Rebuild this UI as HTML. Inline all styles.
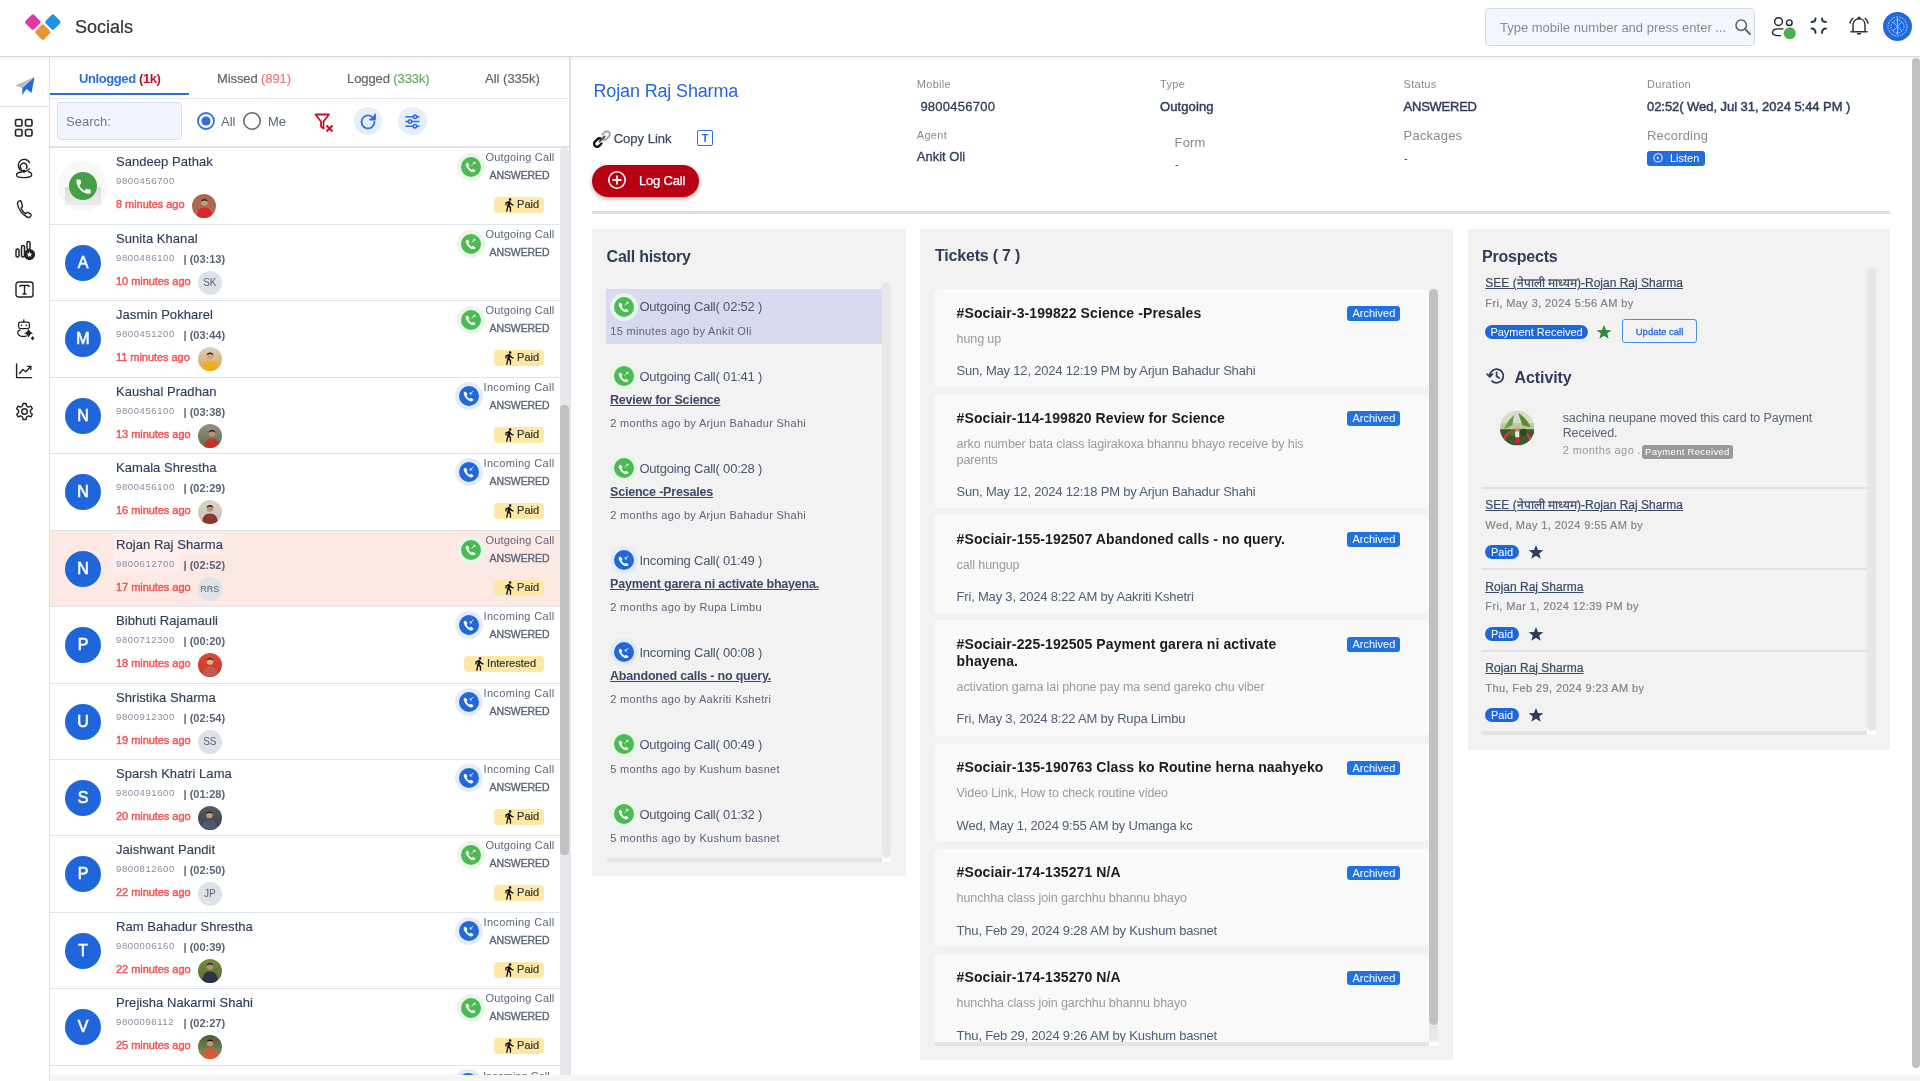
<!DOCTYPE html><html><head><meta charset="utf-8"><title>Socials</title><style>
*{box-sizing:border-box;margin:0;padding:0}
html,body{width:1920px;height:1081px;overflow:hidden;background:#fff}
body{font-family:"Liberation Sans",sans-serif;color:#2f3d5a;position:relative}
.a{position:absolute}
.t{position:absolute;white-space:nowrap;line-height:1}
svg{display:block}
</style></head><body><div style="position:absolute;left:0;top:0;width:1920px;height:1081px;overflow:hidden;will-change:transform;background:#fff">
<div class="a" style="left:0px;top:0px;width:1920px;height:56px;background:#fff"></div>
<div class="a" style="left:0px;top:56px;width:1920px;height:1px;background:#d9d9d9"></div>
<div class="a" style="left:0px;top:57px;width:1920px;height:5px;background:linear-gradient(#f3f3f3,#fff)"></div>
<div class="a" style="left:27.17px;top:16.17px;width:11.67px;height:11.67px;background:#e13a9d;border-radius:2px;transform:rotate(45deg)"></div>
<div class="a" style="left:47.17px;top:16.17px;width:11.67px;height:11.67px;background:#1e93e6;border-radius:2px;transform:rotate(45deg)"></div>
<div class="a" style="left:37.17px;top:26.17px;width:11.67px;height:11.67px;background:#ec9434;border-radius:2px;transform:rotate(45deg)"></div>
<div class="t" style="left:75px;top:17.76px;font-size:18px;color:#333;font-weight:400;-webkit-text-stroke:0.2px #333;">Socials</div>
<div class="a" style="left:1485px;top:8px;width:270px;height:38px;background:#f3f6fd;border:1px solid #d5dae2;border-radius:4px"></div>
<div class="t" style="left:1500px;top:21.00px;font-size:13px;color:#8a8a8a;font-weight:400;">Type mobile number and press enter ...</div>
<svg class="a" style="left:1734px;top:18px" width="18" height="18" viewBox="0 0 18 18"><circle cx="7.2" cy="7.2" r="5.2" fill="none" stroke="#666" stroke-width="1.6"/><line x1="11" y1="11" x2="16" y2="16" stroke="#666" stroke-width="1.8" stroke-linecap="round"/></svg>
<svg class="a" style="left:1770px;top:15px" width="28" height="26" viewBox="0 0 28 26"><circle cx="8.5" cy="6.6" r="3.9" fill="none" stroke="#222" stroke-width="1.4"/><circle cx="19.3" cy="7.7" r="2.8" fill="none" stroke="#222" stroke-width="1.4"/><path d="M13.5 13.9 H8 C4 13.9 2.5 15.7 2.5 17.5 C2.5 19.5 4 20.6 8 20.6 H11" fill="none" stroke="#222" stroke-width="1.4"/><circle cx="19.8" cy="18.3" r="6" fill="#46b14f"/></svg>
<svg class="a" style="left:1810px;top:17px" width="18" height="18" viewBox="0 0 18 18" fill="none" stroke="#2b3a4a" stroke-width="2" stroke-linecap="round"><path d="M5.5 1.5 Q5.5 5 1.5 5"/><path d="M12 1.5 Q12 5 16 5"/><path d="M1.5 11.5 Q5.5 11.5 5.5 16"/><path d="M16 11.5 Q12 11.5 12 16"/></svg>
<svg class="a" style="left:1848px;top:16px" width="22" height="21" viewBox="0 0 22 21" fill="none" stroke="#333" stroke-width="1.5" stroke-linecap="round"><path d="M5 15.5 V9 C5 5.2 7.6 2.8 11 2.8 C14.4 2.8 17 5.2 17 9 V15.5"/><path d="M3 15.8 H19"/><path d="M9.5 17.8 H12.5"/><path d="M2 7 C2.5 5 3.5 3.5 4.8 2.3"/><path d="M20 7 C19.5 5 18.5 3.5 17.2 2.3"/><circle cx="11" cy="2" r="0.8" fill="#333"/></svg>
<svg class="a" style="left:1883px;top:12px" width="29" height="29" viewBox="0 0 29 29"><circle cx="14.5" cy="14.5" r="14.5" fill="#2069de"/><circle cx="14.5" cy="14.5" r="9.5" fill="none" stroke="#cfe0fb" stroke-width="1" stroke-dasharray="1.5 1.2"/><circle cx="14.5" cy="14.5" r="6.5" fill="none" stroke="#e8f0fe" stroke-width="0.9" stroke-dasharray="1.2 1.4"/><path d="M14.5 6 V23 M10 10 L19 19 M19 10 L10 19" stroke="#dfe9fb" stroke-width="0.7"/></svg>
<div class="a" style="left:49px;top:57px;width:1px;height:1024px;background:#dde0e5"></div>
<div class="a" style="left:0px;top:106px;width:49px;height:1px;background:#e2e4e8"></div>
<svg class="a" style="left:14px;top:76px" width="22" height="20" viewBox="0 0 22 20"><path d="M1 9.5 L20.5 1 L8.5 12 Z" fill="#bdbdbd"/><path d="M20.5 1 L17.5 17 L12.5 13 L8 19 L8.5 12 Z" fill="#2169dc"/></svg>
<svg class="a" style="left:14px;top:118px" width="20" height="20" viewBox="0 0 20 20" fill="none" stroke="#222" stroke-width="1.6"><rect x="1.5" y="1.5" width="6.5" height="6.5" rx="1.6"/><rect x="11.5" y="1.5" width="6.5" height="6.5" rx="1.6"/><rect x="1.5" y="11.5" width="6.5" height="6.5" rx="1.6"/><rect x="11.5" y="11.5" width="6.5" height="6.5" rx="1.6"/></svg>
<svg class="a" style="left:14px;top:157px" width="20" height="24" viewBox="14 157 20 24" fill="none" stroke="#222" stroke-width="1.4" stroke-linecap="round"><path d="M29.6 162.6 A6 6 0 1 0 29.2 168.8"/><path d="M21.4 169 A3.3 3.3 0 1 1 26.2 168.6"/><circle cx="23.8" cy="171.3" r="1.7" fill="#222" stroke="none"/><path d="M21.5 172 C17.5 172.5 16.2 174 16.6 175.6 C17.3 178.3 30.6 178.3 31.6 175.2 C32 173.7 30.5 172.2 28.6 171.8"/></svg>
<svg class="a" style="left:16px;top:199px" width="17" height="20" viewBox="16 199 17 20" fill="none" stroke="#222" stroke-width="1.4" stroke-linejoin="round"><path d="M19.5 200.8 C18 201.3 17.2 202.6 17.6 204.5 C18.5 209.5 22.5 214.8 27 217 C28.6 217.8 30.2 217.2 30.9 216 C31.3 215.2 31 214.4 30.3 213.9 L28.2 212.6 C27.5 212.2 26.8 212.4 26.3 213 L25.6 213.8 C23.6 212.5 21.8 210.2 21 208 L21.9 207.3 C22.5 206.8 22.6 206 22.3 205.3 L21.2 201.6 C20.9 200.9 20.2 200.6 19.5 200.8 Z"/></svg>
<svg class="a" style="left:15px;top:240px" width="20" height="20" viewBox="0 0 20 20" fill="none" stroke="#222" stroke-width="1.5"><rect x="1" y="9" width="3" height="8" rx="1.5"/><rect x="6.5" y="5.5" width="3" height="11.5" rx="1.5"/><rect x="12" y="1.5" width="3" height="8" rx="1.5"/><circle cx="14.5" cy="14.5" r="4.8" fill="#222"/><path d="M14.5 11.5 L15.3 13.6 L17.4 13.7 L15.8 15 L16.3 17.1 L14.5 15.9 L12.7 17.1 L13.2 15 L11.6 13.7 L13.7 13.6 Z" fill="#fff" stroke="none"/></svg>
<svg class="a" style="left:15px;top:281px" width="19" height="17" viewBox="0 0 19 17" fill="none" stroke="#222" stroke-width="1.4"><rect x="1" y="1" width="17" height="15" rx="2.5"/><path d="M5 4.5 H14 M5 4.5 V6 M14 4.5 V6 M9.5 4.5 V13 M7.5 13 H11.5"/></svg>
<svg class="a" style="left:15px;top:318px" width="20" height="23" viewBox="15 318 20 23" fill="none" stroke="#222" stroke-width="1.3" stroke-linecap="round"><path d="M23.8 319.8 V322.2"/><rect x="18.6" y="322.2" width="10.8" height="6.4" rx="1.8"/><circle cx="21.6" cy="325.4" r="0.8" fill="#222" stroke="none"/><circle cx="26.3" cy="325.4" r="0.8" fill="#222" stroke="none"/><path d="M20 330.2 C17.6 330.6 17.2 333.2 18.4 334.6 C19.6 336.4 23.6 337 26.6 336"/><path d="M28.6 328.6 Q29.6 332.4 33.2 333.2 Q29.6 334 28.6 337.8 Q27.6 334 24 333.2 Q27.6 332.4 28.6 328.6 Z" fill="#222" stroke="none"/><path d="M32.6 336 L34.4 338.3 L32.6 340.6 L30.8 338.3 Z" fill="#222" stroke="none"/></svg>
<svg class="a" style="left:15px;top:362px" width="19" height="18" viewBox="15 362 19 18" fill="none" stroke="#222" stroke-width="1.4" stroke-linecap="round" stroke-linejoin="round"><path d="M16.6 364 V377.6 H31.6"/><path d="M19.5 373.5 L23 369.5 L25.8 371.8 L30.6 366.6"/><path d="M27.6 366.4 H30.8 V369.6"/></svg>
<svg class="a" style="left:14px;top:401px" width="21" height="21" viewBox="0 0 24 24" fill="none" stroke="#222" stroke-width="1.6" stroke-linejoin="round"><path d="M10.3 2 H13.7 L14.3 4.9 L16.4 6.1 L19.2 5.1 L20.9 8 L18.7 10 V12.4 L20.9 14.4 L19.2 17.3 L16.4 16.3 L14.3 17.5 L13.7 20.4 H10.3 L9.7 17.5 L7.6 16.3 L4.8 17.3 L3.1 14.4 L5.3 12.4 V10 L3.1 8 L4.8 5.1 L7.6 6.1 L9.7 4.9 Z" transform="translate(0,0.8)"/><circle cx="12" cy="12" r="3.2"/></svg>
<div class="a" style="left:569px;top:57px;width:2px;height:1024px;background:#dfe3ea"></div>
<div class="t" style="left:79px;top:72.00px;font-size:13px;color:#2a6fdb;font-weight:700;letter-spacing:-0.4px;">Unlogged <span style="color:#c8102e">(1k)</span></div>
<div class="t" style="left:217px;top:72.00px;font-size:13px;color:#666;font-weight:400;-webkit-text-stroke:0.2px #666;letter-spacing:-0.1px;">Missed <span style="color:#f07878;-webkit-text-stroke-color:#f07878">(891)</span></div>
<div class="t" style="left:347px;top:72.00px;font-size:13px;color:#666;font-weight:400;-webkit-text-stroke:0.2px #666;letter-spacing:-0.1px;">Logged <span style="color:#6aaa64;-webkit-text-stroke-color:#6aaa64">(333k)</span></div>
<div class="t" style="left:485px;top:72.00px;font-size:13px;color:#666;font-weight:400;-webkit-text-stroke:0.2px #666;">All (335k)</div>
<div class="a" style="left:50px;top:93px;width:139px;height:2px;background:#2a6fdb"></div>
<div class="a" style="left:50px;top:98px;width:519px;height:1px;background:#e6e9ef"></div>
<div class="a" style="left:57px;top:102px;width:125px;height:38px;background:#f1f5fd;border:1px solid #d9dee6;border-radius:4px"></div>
<div class="t" style="left:66px;top:115.00px;font-size:13px;color:#777;font-weight:400;">Search:</div>
<svg class="a" style="left:196px;top:111px" width="20" height="20" viewBox="0 0 20 20"><circle cx="10" cy="10" r="8" fill="none" stroke="#2f6fde" stroke-width="1.8"/><circle cx="10" cy="10" r="4.6" fill="#2f6fde"/></svg>
<div class="t" style="left:221px;top:115.00px;font-size:13px;color:#5a6478;font-weight:400;">All</div>
<svg class="a" style="left:242px;top:111px" width="20" height="20" viewBox="0 0 20 20"><circle cx="10" cy="10" r="8.2" fill="none" stroke="#666" stroke-width="1.6"/></svg>
<div class="t" style="left:268px;top:115.00px;font-size:13px;color:#5a6478;font-weight:400;">Me</div>
<svg class="a" style="left:313.5px;top:113px" width="22" height="20" viewBox="0 0 22 20" fill="none" stroke="#c0142a" stroke-width="1.8" stroke-linejoin="round"><path d="M1.5 1.5 H15 L9.5 8.5 V15.5 L7 13.5 V8.5 Z"/><path d="M12.5 12.5 L18.5 18.5 M18.5 12.5 L12.5 18.5" stroke-width="2"/></svg>
<div class="a" style="left:354px;top:107px;width:28px;height:28px;background:#e6eefb;border-radius:50%"></div>
<svg class="a" style="left:358px;top:111.5px" width="20" height="20" viewBox="0 0 20 20" fill="none" stroke="#2f6fde" stroke-width="1.8" stroke-linecap="round"><path d="M16.5 10 A6.5 6.5 0 1 1 14 4.8"/><path d="M17 2.5 V7.5 H12" fill="#2f6fde" stroke-linejoin="round"/></svg>
<div class="a" style="left:398px;top:107px;width:29px;height:28px;background:#e6eefb;border-radius:50%"></div>
<svg class="a" style="left:405px;top:113.5px" width="15" height="15" viewBox="0 0 15 15" stroke="#2f6fde" stroke-width="1.6" stroke-linecap="round" fill="#e6eefb"><path d="M1 2.8 H14 M1 7.5 H14 M1 12.2 H14"/><circle cx="10" cy="2.8" r="1.7"/><circle cx="5" cy="7.5" r="1.7"/><circle cx="10" cy="12.2" r="1.7"/></svg>
<div class="a" style="left:50px;top:146px;width:519px;height:2px;background:#dfe3ea"></div>
<div class="a" style="left:50px;top:148px;width:510px;height:927px;overflow:hidden">
<div class="a" style="left:0;top:0px;width:510px;height:77px;background:#fff;border-bottom:1px solid #dfe3ea">
<div class="a" style="left:8px;top:13px;width:50px;height:50px;border-radius:50%;background:#f7f9f7"></div>
<div class="a" style="left:15px;top:39px;width:36px;height:18px;background:linear-gradient(#dcdcdc,#ececec)"></div>
<div class="a" style="left:19px;top:24px;width:28px;height:28px;border-radius:50%;background:#43a047"></div>
<svg class="a" style="left:23.5px;top:28.5px" width="19" height="19" viewBox="0 0 24 24"><path d="M6.6 10.8c1.4 2.8 3.8 5.1 6.6 6.6l2.2-2.2c.3-.3.7-.4 1-.2 1.1.4 2.3.6 3.6.6.6 0 1 .4 1 1V20c0 .6-.4 1-1 1C10.6 21 3 13.4 3 4c0-.6.4-1 1-1h3.5c.6 0 1 .4 1 1 0 1.3.2 2.5.6 3.6.1.3 0 .7-.2 1L6.6 10.8z" fill="#fff"/></svg>
<div class="t" style="left:66px;top:6.80px;font-size:13px;color:#2f3d5a;font-weight:400;letter-spacing:0.05px;-webkit-text-stroke:0.15px #2f3d5a;">Sandeep Pathak</div>
<div class="t" style="left:66px;top:28.36px;font-size:9.5px;color:#848d9f;font-weight:400;letter-spacing:0.6px;">9800456700</div>
<div class="t" style="left:66px;top:51.09px;font-size:11px;color:#f05656;font-weight:400;letter-spacing:-0.05px;-webkit-text-stroke:0.45px #f05656;">8 minutes ago</div>
<svg class="a" style="left:141.5px;top:45.5px" width="24" height="24" viewBox="0 0 24 24"><defs><clipPath id="cp1"><circle cx="12" cy="12" r="12"/></clipPath><linearGradient id="gcp1" x1="0" y1="0" x2="0" y2="1"><stop offset="0" stop-color="#a8674f"/><stop offset="1" stop-color="#b86a55"/></linearGradient></defs><g clip-path="url(#cp1)"><rect width="24" height="24" fill="url(#gcp1)"/><path d="M4.5 25 C4.5 16.5 7.5 13.5 12.5 13.5 C17.5 13.5 20.5 16.5 20.5 25 Z" fill="#d62a2a"/><circle cx="12.5" cy="8.5" r="3.3" fill="#c99a80"/><path d="M9.1 8.0 C9.1 4.0 15.9 4.0 15.9 8.0 C14.5 6.0 10.5 6.0 9.1 8.0 Z" fill="#1a1a1a"/></g></svg>
<div class="a" style="left:407.00px;top:4.60px;width:28px;height:28px;border-radius:50%;background:#e9f6ea"></div><div class="a" style="left:411.00px;top:8.60px;width:20px;height:20px;border-radius:50%;background:#4cbb55"></div><svg class="a" style="left:415.20px;top:12.80px" width="11.60" height="11.60" viewBox="0 -3 12 12"><path d="M1.2 -0.6 C0.6 0 0.6 1 1 2 C2 4.8 4.6 7.6 7.5 8.7 C8.5 9 9.3 9 9.8 8.5 L10.6 7.6 C10.9 7.2 10.9 6.8 10.5 6.5 L8.8 5.3 C8.4 5.1 8 5.1 7.7 5.4 L7 6.1 C5.6 5.4 4.3 4.1 3.6 2.7 L4.3 2 C4.6 1.7 4.6 1.3 4.4 0.9 L3.2 -0.8 C2.9 -1.2 2.4 -1.2 2.1 -0.9 Z" fill="#fff"/><path d="M7.2 1.4 L10.2 -1.6 M8.9 -1.7 H10.3 V-0.3" stroke="#fff" stroke-opacity="0.85" stroke-width="1.0" fill="none" stroke-linecap="round"/></svg>
<div class="t" style="left:420px;width:100px;text-align:center;top:4.19px;font-size:11px;color:#5d6679;font-weight:400;letter-spacing:0.18px;">Outgoing Call</div>
<div class="t" style="left:420px;width:99px;text-align:center;top:22.11px;font-size:10.5px;color:#5d6679;font-weight:400;letter-spacing:-0.1px;-webkit-text-stroke:0.35px #5d6679;">ANSWERED</div>
<div class="a" style="left:443.6px;top:49px;width:50px;height:16px;background:#fde8a6;border-radius:4px"></div>
<svg class="a" style="left:455.1px;top:49.8px" width="9" height="14" viewBox="5.5 1.2 14 22"><path d="M13.5 5.5c1.1 0 2-.9 2-2s-.9-2-2-2-2 .9-2 2 .9 2 2 2zM9.8 8.9L7 23h2.1l1.8-8 2.1 2v6h2v-7.5l-2.1-2 .6-3C14.8 12 16.8 13 19 13v-2c-1.9 0-3.5-1-4.3-2.4l-1-1.6c-.4-.6-1-1-1.7-1-.3 0-.5.1-.8.1L6 8.3V13h2V9.6l1.8-.7" fill="#111"/></svg>
<div class="t" style="left:467.1px;top:51.29px;font-size:11px;color:#333;font-weight:400;-webkit-text-stroke:0.2px #333;">Paid</div>
</div>
<div class="a" style="left:0;top:77px;width:510px;height:76px;background:#fff;border-bottom:1px solid #dfe3ea">
<div class="a" style="left:15px;top:20px;width:36px;height:36px;border-radius:50%;background:#1f66da"></div>
<div class="t" style="left:15px;top:30.26px;font-size:16px;color:#fff;font-weight:400;width:36px;text-align:center;-webkit-text-stroke:0.6px #fff;">A</div>
<div class="t" style="left:66px;top:6.80px;font-size:13px;color:#2f3d5a;font-weight:400;letter-spacing:0.05px;-webkit-text-stroke:0.15px #2f3d5a;">Sunita Khanal</div>
<div class="t" style="left:66px;top:28.36px;font-size:9.5px;color:#848d9f;font-weight:400;letter-spacing:0.6px;">9800486100</div>
<div class="t" style="left:133.5px;top:28.69px;font-size:11px;color:#5b6477;font-weight:700;">| (03:13)</div>
<div class="t" style="left:66px;top:51.09px;font-size:11px;color:#f05656;font-weight:400;letter-spacing:-0.05px;-webkit-text-stroke:0.45px #f05656;">10 minutes ago</div>
<div class="a" style="left:147.8px;top:45.5px;width:24px;height:24px;border-radius:50%;background:#dde1e8"></div>
<div class="t" style="left:147.8px;top:52.73px;font-size:10px;color:#5a6478;font-weight:400;width:24px;text-align:center;">SK</div>
<div class="a" style="left:407.00px;top:4.60px;width:28px;height:28px;border-radius:50%;background:#e9f6ea"></div><div class="a" style="left:411.00px;top:8.60px;width:20px;height:20px;border-radius:50%;background:#4cbb55"></div><svg class="a" style="left:415.20px;top:12.80px" width="11.60" height="11.60" viewBox="0 -3 12 12"><path d="M1.2 -0.6 C0.6 0 0.6 1 1 2 C2 4.8 4.6 7.6 7.5 8.7 C8.5 9 9.3 9 9.8 8.5 L10.6 7.6 C10.9 7.2 10.9 6.8 10.5 6.5 L8.8 5.3 C8.4 5.1 8 5.1 7.7 5.4 L7 6.1 C5.6 5.4 4.3 4.1 3.6 2.7 L4.3 2 C4.6 1.7 4.6 1.3 4.4 0.9 L3.2 -0.8 C2.9 -1.2 2.4 -1.2 2.1 -0.9 Z" fill="#fff"/><path d="M7.2 1.4 L10.2 -1.6 M8.9 -1.7 H10.3 V-0.3" stroke="#fff" stroke-opacity="0.85" stroke-width="1.0" fill="none" stroke-linecap="round"/></svg>
<div class="t" style="left:420px;width:100px;text-align:center;top:4.19px;font-size:11px;color:#5d6679;font-weight:400;letter-spacing:0.18px;">Outgoing Call</div>
<div class="t" style="left:420px;width:99px;text-align:center;top:22.11px;font-size:10.5px;color:#5d6679;font-weight:400;letter-spacing:-0.1px;-webkit-text-stroke:0.35px #5d6679;">ANSWERED</div>
</div>
<div class="a" style="left:0;top:153px;width:510px;height:77px;background:#fff;border-bottom:1px solid #dfe3ea">
<div class="a" style="left:15px;top:20px;width:36px;height:36px;border-radius:50%;background:#1f66da"></div>
<div class="t" style="left:15px;top:30.26px;font-size:16px;color:#fff;font-weight:400;width:36px;text-align:center;-webkit-text-stroke:0.6px #fff;">M</div>
<div class="t" style="left:66px;top:6.80px;font-size:13px;color:#2f3d5a;font-weight:400;letter-spacing:0.05px;-webkit-text-stroke:0.15px #2f3d5a;">Jasmin Pokharel</div>
<div class="t" style="left:66px;top:28.36px;font-size:9.5px;color:#848d9f;font-weight:400;letter-spacing:0.6px;">9800451200</div>
<div class="t" style="left:133.5px;top:28.69px;font-size:11px;color:#5b6477;font-weight:700;">| (03:44)</div>
<div class="t" style="left:66px;top:51.09px;font-size:11px;color:#f05656;font-weight:400;letter-spacing:-0.05px;-webkit-text-stroke:0.45px #f05656;">11 minutes ago</div>
<svg class="a" style="left:147.8px;top:45.5px" width="24" height="24" viewBox="0 0 24 24"><defs><clipPath id="cp2"><circle cx="12" cy="12" r="12"/></clipPath><linearGradient id="gcp2" x1="0" y1="0" x2="0" y2="1"><stop offset="0" stop-color="#d9d0c8"/><stop offset="1" stop-color="#e2a040"/></linearGradient></defs><g clip-path="url(#cp2)"><rect width="24" height="24" fill="url(#gcp2)"/><path d="M4 25 C4 17 7 14 12 14 C17 14 20 17 20 25 Z" fill="#e8b020"/><circle cx="12" cy="9" r="3.3" fill="#d8a080"/><path d="M8.6 8.5 C8.6 4.5 15.4 4.5 15.4 8.5 C14 6.5 10 6.5 8.6 8.5 Z" fill="#2a1a10"/></g></svg>
<div class="a" style="left:407.00px;top:4.60px;width:28px;height:28px;border-radius:50%;background:#e9f6ea"></div><div class="a" style="left:411.00px;top:8.60px;width:20px;height:20px;border-radius:50%;background:#4cbb55"></div><svg class="a" style="left:415.20px;top:12.80px" width="11.60" height="11.60" viewBox="0 -3 12 12"><path d="M1.2 -0.6 C0.6 0 0.6 1 1 2 C2 4.8 4.6 7.6 7.5 8.7 C8.5 9 9.3 9 9.8 8.5 L10.6 7.6 C10.9 7.2 10.9 6.8 10.5 6.5 L8.8 5.3 C8.4 5.1 8 5.1 7.7 5.4 L7 6.1 C5.6 5.4 4.3 4.1 3.6 2.7 L4.3 2 C4.6 1.7 4.6 1.3 4.4 0.9 L3.2 -0.8 C2.9 -1.2 2.4 -1.2 2.1 -0.9 Z" fill="#fff"/><path d="M7.2 1.4 L10.2 -1.6 M8.9 -1.7 H10.3 V-0.3" stroke="#fff" stroke-opacity="0.85" stroke-width="1.0" fill="none" stroke-linecap="round"/></svg>
<div class="t" style="left:420px;width:100px;text-align:center;top:4.19px;font-size:11px;color:#5d6679;font-weight:400;letter-spacing:0.18px;">Outgoing Call</div>
<div class="t" style="left:420px;width:99px;text-align:center;top:22.11px;font-size:10.5px;color:#5d6679;font-weight:400;letter-spacing:-0.1px;-webkit-text-stroke:0.35px #5d6679;">ANSWERED</div>
<div class="a" style="left:443.6px;top:49px;width:50px;height:16px;background:#fde8a6;border-radius:4px"></div>
<svg class="a" style="left:455.1px;top:49.8px" width="9" height="14" viewBox="5.5 1.2 14 22"><path d="M13.5 5.5c1.1 0 2-.9 2-2s-.9-2-2-2-2 .9-2 2 .9 2 2 2zM9.8 8.9L7 23h2.1l1.8-8 2.1 2v6h2v-7.5l-2.1-2 .6-3C14.8 12 16.8 13 19 13v-2c-1.9 0-3.5-1-4.3-2.4l-1-1.6c-.4-.6-1-1-1.7-1-.3 0-.5.1-.8.1L6 8.3V13h2V9.6l1.8-.7" fill="#111"/></svg>
<div class="t" style="left:467.1px;top:51.29px;font-size:11px;color:#333;font-weight:400;-webkit-text-stroke:0.2px #333;">Paid</div>
</div>
<div class="a" style="left:0;top:230px;width:510px;height:76px;background:#fff;border-bottom:1px solid #dfe3ea">
<div class="a" style="left:15px;top:20px;width:36px;height:36px;border-radius:50%;background:#1f66da"></div>
<div class="t" style="left:15px;top:30.26px;font-size:16px;color:#fff;font-weight:400;width:36px;text-align:center;-webkit-text-stroke:0.6px #fff;">N</div>
<div class="t" style="left:66px;top:6.80px;font-size:13px;color:#2f3d5a;font-weight:400;letter-spacing:0.05px;-webkit-text-stroke:0.15px #2f3d5a;">Kaushal Pradhan</div>
<div class="t" style="left:66px;top:28.36px;font-size:9.5px;color:#848d9f;font-weight:400;letter-spacing:0.6px;">9800456100</div>
<div class="t" style="left:133.5px;top:28.69px;font-size:11px;color:#5b6477;font-weight:700;">| (03:38)</div>
<div class="t" style="left:66px;top:51.09px;font-size:11px;color:#f05656;font-weight:400;letter-spacing:-0.05px;-webkit-text-stroke:0.45px #f05656;">13 minutes ago</div>
<svg class="a" style="left:147.8px;top:45.5px" width="24" height="24" viewBox="0 0 24 24"><defs><clipPath id="cp3"><circle cx="12" cy="12" r="12"/></clipPath><linearGradient id="gcp3" x1="0" y1="0" x2="0" y2="1"><stop offset="0" stop-color="#9a9080"/><stop offset="1" stop-color="#5a7050"/></linearGradient></defs><g clip-path="url(#cp3)"><rect width="24" height="24" fill="url(#gcp3)"/><path d="M6 25 C6 17.5 9 14.5 14 14.5 C19 14.5 22 17.5 22 25 Z" fill="#c83030"/><circle cx="14" cy="9.5" r="3.3" fill="#c09070"/><path d="M10.6 9.0 C10.6 5.0 17.4 5.0 17.4 9.0 C16 7.0 12 7.0 10.6 9.0 Z" fill="#1a1a1a"/></g></svg>
<div class="a" style="left:404.80px;top:3.90px;width:28px;height:28px;border-radius:50%;background:#e4ecfa"></div><div class="a" style="left:408.80px;top:7.90px;width:20px;height:20px;border-radius:50%;background:#2068dc"></div><svg class="a" style="left:413.00px;top:12.10px" width="11.60" height="11.60" viewBox="0 -3 12 12"><path d="M1.2 -0.6 C0.6 0 0.6 1 1 2 C2 4.8 4.6 7.6 7.5 8.7 C8.5 9 9.3 9 9.8 8.5 L10.6 7.6 C10.9 7.2 10.9 6.8 10.5 6.5 L8.8 5.3 C8.4 5.1 8 5.1 7.7 5.4 L7 6.1 C5.6 5.4 4.3 4.1 3.6 2.7 L4.3 2 C4.6 1.7 4.6 1.3 4.4 0.9 L3.2 -0.8 C2.9 -1.2 2.4 -1.2 2.1 -0.9 Z" fill="#fff"/><path d="M10.4 -1.8 L7.6 1.0 M7.5 -0.4 V1.1 H9.0" stroke="#fff" stroke-opacity="0.85" stroke-width="1.0" fill="none" stroke-linecap="round"/></svg>
<div class="t" style="left:420px;width:98px;text-align:center;top:4.19px;font-size:11px;color:#5d6679;font-weight:400;letter-spacing:0.33px;">Incoming Call</div>
<div class="t" style="left:420px;width:99px;text-align:center;top:22.11px;font-size:10.5px;color:#5d6679;font-weight:400;letter-spacing:-0.1px;-webkit-text-stroke:0.35px #5d6679;">ANSWERED</div>
<div class="a" style="left:443.6px;top:49px;width:50px;height:16px;background:#fde8a6;border-radius:4px"></div>
<svg class="a" style="left:455.1px;top:49.8px" width="9" height="14" viewBox="5.5 1.2 14 22"><path d="M13.5 5.5c1.1 0 2-.9 2-2s-.9-2-2-2-2 .9-2 2 .9 2 2 2zM9.8 8.9L7 23h2.1l1.8-8 2.1 2v6h2v-7.5l-2.1-2 .6-3C14.8 12 16.8 13 19 13v-2c-1.9 0-3.5-1-4.3-2.4l-1-1.6c-.4-.6-1-1-1.7-1-.3 0-.5.1-.8.1L6 8.3V13h2V9.6l1.8-.7" fill="#111"/></svg>
<div class="t" style="left:467.1px;top:51.29px;font-size:11px;color:#333;font-weight:400;-webkit-text-stroke:0.2px #333;">Paid</div>
</div>
<div class="a" style="left:0;top:306px;width:510px;height:77px;background:#fff;border-bottom:1px solid #dfe3ea">
<div class="a" style="left:15px;top:20px;width:36px;height:36px;border-radius:50%;background:#1f66da"></div>
<div class="t" style="left:15px;top:30.26px;font-size:16px;color:#fff;font-weight:400;width:36px;text-align:center;-webkit-text-stroke:0.6px #fff;">N</div>
<div class="t" style="left:66px;top:6.80px;font-size:13px;color:#2f3d5a;font-weight:400;letter-spacing:0.05px;-webkit-text-stroke:0.15px #2f3d5a;">Kamala Shrestha</div>
<div class="t" style="left:66px;top:28.36px;font-size:9.5px;color:#848d9f;font-weight:400;letter-spacing:0.6px;">9800456100</div>
<div class="t" style="left:133.5px;top:28.69px;font-size:11px;color:#5b6477;font-weight:700;">| (02:29)</div>
<div class="t" style="left:66px;top:51.09px;font-size:11px;color:#f05656;font-weight:400;letter-spacing:-0.05px;-webkit-text-stroke:0.45px #f05656;">16 minutes ago</div>
<svg class="a" style="left:147.8px;top:45.5px" width="24" height="24" viewBox="0 0 24 24"><defs><clipPath id="cp4"><circle cx="12" cy="12" r="12"/></clipPath><linearGradient id="gcp4" x1="0" y1="0" x2="0" y2="1"><stop offset="0" stop-color="#d8d4cc"/><stop offset="1" stop-color="#c8c0b8"/></linearGradient></defs><g clip-path="url(#cp4)"><rect width="24" height="24" fill="url(#gcp4)"/><path d="M4 25 C4 16.5 7 13.5 12 13.5 C17 13.5 20 16.5 20 25 Z" fill="#8a3a30"/><circle cx="12" cy="8.5" r="3.3" fill="#c09078"/><path d="M8.6 8.0 C8.6 4.0 15.4 4.0 15.4 8.0 C14 6.0 10 6.0 8.6 8.0 Z" fill="#2a1a10"/></g></svg>
<div class="a" style="left:404.80px;top:3.90px;width:28px;height:28px;border-radius:50%;background:#e4ecfa"></div><div class="a" style="left:408.80px;top:7.90px;width:20px;height:20px;border-radius:50%;background:#2068dc"></div><svg class="a" style="left:413.00px;top:12.10px" width="11.60" height="11.60" viewBox="0 -3 12 12"><path d="M1.2 -0.6 C0.6 0 0.6 1 1 2 C2 4.8 4.6 7.6 7.5 8.7 C8.5 9 9.3 9 9.8 8.5 L10.6 7.6 C10.9 7.2 10.9 6.8 10.5 6.5 L8.8 5.3 C8.4 5.1 8 5.1 7.7 5.4 L7 6.1 C5.6 5.4 4.3 4.1 3.6 2.7 L4.3 2 C4.6 1.7 4.6 1.3 4.4 0.9 L3.2 -0.8 C2.9 -1.2 2.4 -1.2 2.1 -0.9 Z" fill="#fff"/><path d="M10.4 -1.8 L7.6 1.0 M7.5 -0.4 V1.1 H9.0" stroke="#fff" stroke-opacity="0.85" stroke-width="1.0" fill="none" stroke-linecap="round"/></svg>
<div class="t" style="left:420px;width:98px;text-align:center;top:4.19px;font-size:11px;color:#5d6679;font-weight:400;letter-spacing:0.33px;">Incoming Call</div>
<div class="t" style="left:420px;width:99px;text-align:center;top:22.11px;font-size:10.5px;color:#5d6679;font-weight:400;letter-spacing:-0.1px;-webkit-text-stroke:0.35px #5d6679;">ANSWERED</div>
<div class="a" style="left:443.6px;top:49px;width:50px;height:16px;background:#fde8a6;border-radius:4px"></div>
<svg class="a" style="left:455.1px;top:49.8px" width="9" height="14" viewBox="5.5 1.2 14 22"><path d="M13.5 5.5c1.1 0 2-.9 2-2s-.9-2-2-2-2 .9-2 2 .9 2 2 2zM9.8 8.9L7 23h2.1l1.8-8 2.1 2v6h2v-7.5l-2.1-2 .6-3C14.8 12 16.8 13 19 13v-2c-1.9 0-3.5-1-4.3-2.4l-1-1.6c-.4-.6-1-1-1.7-1-.3 0-.5.1-.8.1L6 8.3V13h2V9.6l1.8-.7" fill="#111"/></svg>
<div class="t" style="left:467.1px;top:51.29px;font-size:11px;color:#333;font-weight:400;-webkit-text-stroke:0.2px #333;">Paid</div>
</div>
<div class="a" style="left:0;top:383px;width:510px;height:76px;background:#fde9e4;border-bottom:1px solid #dfe3ea">
<div class="a" style="left:15px;top:20px;width:36px;height:36px;border-radius:50%;background:#1f66da"></div>
<div class="t" style="left:15px;top:30.26px;font-size:16px;color:#fff;font-weight:400;width:36px;text-align:center;-webkit-text-stroke:0.6px #fff;">N</div>
<div class="a" style="left:64px;top:3px;width:109px;height:20px;background:rgba(255,255,255,0.3)"></div>
<div class="a" style="left:62.5px;top:23px;width:67.5px;height:17px;background:rgba(255,255,255,0.3)"></div>
<div class="t" style="left:66px;top:6.80px;font-size:13px;color:#2f3d5a;font-weight:400;letter-spacing:0.05px;-webkit-text-stroke:0.15px #2f3d5a;">Rojan Raj Sharma</div>
<div class="t" style="left:66px;top:28.36px;font-size:9.5px;color:#848d9f;font-weight:400;letter-spacing:0.6px;">9800612700</div>
<div class="t" style="left:133.5px;top:28.69px;font-size:11px;color:#5b6477;font-weight:700;">| (02:52)</div>
<div class="t" style="left:66px;top:51.09px;font-size:11px;color:#f05656;font-weight:400;letter-spacing:-0.05px;-webkit-text-stroke:0.45px #f05656;">17 minutes ago</div>
<div class="a" style="left:147.8px;top:45.5px;width:24px;height:24px;border-radius:50%;background:#dde1e8"></div>
<div class="t" style="left:147.8px;top:53.58px;font-size:9px;color:#5a6478;font-weight:400;width:24px;text-align:center;">RRS</div>
<div class="a" style="left:407.00px;top:4.60px;width:28px;height:28px;border-radius:50%;background:#e9f6ea"></div><div class="a" style="left:411.00px;top:8.60px;width:20px;height:20px;border-radius:50%;background:#4cbb55"></div><svg class="a" style="left:415.20px;top:12.80px" width="11.60" height="11.60" viewBox="0 -3 12 12"><path d="M1.2 -0.6 C0.6 0 0.6 1 1 2 C2 4.8 4.6 7.6 7.5 8.7 C8.5 9 9.3 9 9.8 8.5 L10.6 7.6 C10.9 7.2 10.9 6.8 10.5 6.5 L8.8 5.3 C8.4 5.1 8 5.1 7.7 5.4 L7 6.1 C5.6 5.4 4.3 4.1 3.6 2.7 L4.3 2 C4.6 1.7 4.6 1.3 4.4 0.9 L3.2 -0.8 C2.9 -1.2 2.4 -1.2 2.1 -0.9 Z" fill="#fff"/><path d="M7.2 1.4 L10.2 -1.6 M8.9 -1.7 H10.3 V-0.3" stroke="#fff" stroke-opacity="0.85" stroke-width="1.0" fill="none" stroke-linecap="round"/></svg>
<div class="t" style="left:420px;width:100px;text-align:center;top:4.19px;font-size:11px;color:#5d6679;font-weight:400;letter-spacing:0.18px;">Outgoing Call</div>
<div class="t" style="left:420px;width:99px;text-align:center;top:22.11px;font-size:10.5px;color:#5d6679;font-weight:400;letter-spacing:-0.1px;-webkit-text-stroke:0.35px #5d6679;">ANSWERED</div>
<div class="a" style="left:443.6px;top:49px;width:50px;height:16px;background:#fde8a6;border-radius:4px"></div>
<svg class="a" style="left:455.1px;top:49.8px" width="9" height="14" viewBox="5.5 1.2 14 22"><path d="M13.5 5.5c1.1 0 2-.9 2-2s-.9-2-2-2-2 .9-2 2 .9 2 2 2zM9.8 8.9L7 23h2.1l1.8-8 2.1 2v6h2v-7.5l-2.1-2 .6-3C14.8 12 16.8 13 19 13v-2c-1.9 0-3.5-1-4.3-2.4l-1-1.6c-.4-.6-1-1-1.7-1-.3 0-.5.1-.8.1L6 8.3V13h2V9.6l1.8-.7" fill="#111"/></svg>
<div class="t" style="left:467.1px;top:51.29px;font-size:11px;color:#333;font-weight:400;-webkit-text-stroke:0.2px #333;">Paid</div>
</div>
<div class="a" style="left:0;top:459px;width:510px;height:77px;background:#fff;border-bottom:1px solid #dfe3ea">
<div class="a" style="left:15px;top:20px;width:36px;height:36px;border-radius:50%;background:#1f66da"></div>
<div class="t" style="left:15px;top:30.26px;font-size:16px;color:#fff;font-weight:400;width:36px;text-align:center;-webkit-text-stroke:0.6px #fff;">P</div>
<div class="t" style="left:66px;top:6.80px;font-size:13px;color:#2f3d5a;font-weight:400;letter-spacing:0.05px;-webkit-text-stroke:0.15px #2f3d5a;">Bibhuti Rajamauli</div>
<div class="t" style="left:66px;top:28.36px;font-size:9.5px;color:#848d9f;font-weight:400;letter-spacing:0.6px;">9800712300</div>
<div class="t" style="left:133.5px;top:28.69px;font-size:11px;color:#5b6477;font-weight:700;">| (00:20)</div>
<div class="t" style="left:66px;top:51.09px;font-size:11px;color:#f05656;font-weight:400;letter-spacing:-0.05px;-webkit-text-stroke:0.45px #f05656;">18 minutes ago</div>
<svg class="a" style="left:147.8px;top:45.5px" width="24" height="24" viewBox="0 0 24 24"><defs><clipPath id="cp5"><circle cx="12" cy="12" r="12"/></clipPath><linearGradient id="gcp5" x1="0" y1="0" x2="0" y2="1"><stop offset="0" stop-color="#d84a30"/><stop offset="1" stop-color="#c83a28"/></linearGradient></defs><g clip-path="url(#cp5)"><rect width="24" height="24" fill="url(#gcp5)"/><path d="M4 25 C4 16.5 7 13.5 12 13.5 C17 13.5 20 16.5 20 25 Z" fill="#c05a50"/><circle cx="12" cy="8.5" r="3.3" fill="#e0b090"/><path d="M8.6 8.0 C8.6 4.0 15.4 4.0 15.4 8.0 C14 6.0 10 6.0 8.6 8.0 Z" fill="#2a1a10"/></g></svg>
<div class="a" style="left:404.80px;top:3.90px;width:28px;height:28px;border-radius:50%;background:#e4ecfa"></div><div class="a" style="left:408.80px;top:7.90px;width:20px;height:20px;border-radius:50%;background:#2068dc"></div><svg class="a" style="left:413.00px;top:12.10px" width="11.60" height="11.60" viewBox="0 -3 12 12"><path d="M1.2 -0.6 C0.6 0 0.6 1 1 2 C2 4.8 4.6 7.6 7.5 8.7 C8.5 9 9.3 9 9.8 8.5 L10.6 7.6 C10.9 7.2 10.9 6.8 10.5 6.5 L8.8 5.3 C8.4 5.1 8 5.1 7.7 5.4 L7 6.1 C5.6 5.4 4.3 4.1 3.6 2.7 L4.3 2 C4.6 1.7 4.6 1.3 4.4 0.9 L3.2 -0.8 C2.9 -1.2 2.4 -1.2 2.1 -0.9 Z" fill="#fff"/><path d="M10.4 -1.8 L7.6 1.0 M7.5 -0.4 V1.1 H9.0" stroke="#fff" stroke-opacity="0.85" stroke-width="1.0" fill="none" stroke-linecap="round"/></svg>
<div class="t" style="left:420px;width:98px;text-align:center;top:4.19px;font-size:11px;color:#5d6679;font-weight:400;letter-spacing:0.33px;">Incoming Call</div>
<div class="t" style="left:420px;width:99px;text-align:center;top:22.11px;font-size:10.5px;color:#5d6679;font-weight:400;letter-spacing:-0.1px;-webkit-text-stroke:0.35px #5d6679;">ANSWERED</div>
<div class="a" style="left:413.6px;top:49px;width:80px;height:16px;background:#fde8a6;border-radius:4px"></div>
<svg class="a" style="left:425.1px;top:49.8px" width="9" height="14" viewBox="5.5 1.2 14 22"><path d="M13.5 5.5c1.1 0 2-.9 2-2s-.9-2-2-2-2 .9-2 2 .9 2 2 2zM9.8 8.9L7 23h2.1l1.8-8 2.1 2v6h2v-7.5l-2.1-2 .6-3C14.8 12 16.8 13 19 13v-2c-1.9 0-3.5-1-4.3-2.4l-1-1.6c-.4-.6-1-1-1.7-1-.3 0-.5.1-.8.1L6 8.3V13h2V9.6l1.8-.7" fill="#111"/></svg>
<div class="t" style="left:437.1px;top:51.29px;font-size:11px;color:#333;font-weight:400;-webkit-text-stroke:0.2px #333;">Interested</div>
</div>
<div class="a" style="left:0;top:536px;width:510px;height:76px;background:#fff;border-bottom:1px solid #dfe3ea">
<div class="a" style="left:15px;top:20px;width:36px;height:36px;border-radius:50%;background:#1f66da"></div>
<div class="t" style="left:15px;top:30.26px;font-size:16px;color:#fff;font-weight:400;width:36px;text-align:center;-webkit-text-stroke:0.6px #fff;">U</div>
<div class="t" style="left:66px;top:6.80px;font-size:13px;color:#2f3d5a;font-weight:400;letter-spacing:0.05px;-webkit-text-stroke:0.15px #2f3d5a;">Shristika Sharma</div>
<div class="t" style="left:66px;top:28.36px;font-size:9.5px;color:#848d9f;font-weight:400;letter-spacing:0.6px;">9800912300</div>
<div class="t" style="left:133.5px;top:28.69px;font-size:11px;color:#5b6477;font-weight:700;">| (02:54)</div>
<div class="t" style="left:66px;top:51.09px;font-size:11px;color:#f05656;font-weight:400;letter-spacing:-0.05px;-webkit-text-stroke:0.45px #f05656;">19 minutes ago</div>
<div class="a" style="left:147.8px;top:45.5px;width:24px;height:24px;border-radius:50%;background:#dde1e8"></div>
<div class="t" style="left:147.8px;top:52.73px;font-size:10px;color:#5a6478;font-weight:400;width:24px;text-align:center;">SS</div>
<div class="a" style="left:404.80px;top:3.90px;width:28px;height:28px;border-radius:50%;background:#e4ecfa"></div><div class="a" style="left:408.80px;top:7.90px;width:20px;height:20px;border-radius:50%;background:#2068dc"></div><svg class="a" style="left:413.00px;top:12.10px" width="11.60" height="11.60" viewBox="0 -3 12 12"><path d="M1.2 -0.6 C0.6 0 0.6 1 1 2 C2 4.8 4.6 7.6 7.5 8.7 C8.5 9 9.3 9 9.8 8.5 L10.6 7.6 C10.9 7.2 10.9 6.8 10.5 6.5 L8.8 5.3 C8.4 5.1 8 5.1 7.7 5.4 L7 6.1 C5.6 5.4 4.3 4.1 3.6 2.7 L4.3 2 C4.6 1.7 4.6 1.3 4.4 0.9 L3.2 -0.8 C2.9 -1.2 2.4 -1.2 2.1 -0.9 Z" fill="#fff"/><path d="M10.4 -1.8 L7.6 1.0 M7.5 -0.4 V1.1 H9.0" stroke="#fff" stroke-opacity="0.85" stroke-width="1.0" fill="none" stroke-linecap="round"/></svg>
<div class="t" style="left:420px;width:98px;text-align:center;top:4.19px;font-size:11px;color:#5d6679;font-weight:400;letter-spacing:0.33px;">Incoming Call</div>
<div class="t" style="left:420px;width:99px;text-align:center;top:22.11px;font-size:10.5px;color:#5d6679;font-weight:400;letter-spacing:-0.1px;-webkit-text-stroke:0.35px #5d6679;">ANSWERED</div>
</div>
<div class="a" style="left:0;top:612px;width:510px;height:76px;background:#fff;border-bottom:1px solid #dfe3ea">
<div class="a" style="left:15px;top:20px;width:36px;height:36px;border-radius:50%;background:#1f66da"></div>
<div class="t" style="left:15px;top:30.26px;font-size:16px;color:#fff;font-weight:400;width:36px;text-align:center;-webkit-text-stroke:0.6px #fff;">S</div>
<div class="t" style="left:66px;top:6.80px;font-size:13px;color:#2f3d5a;font-weight:400;letter-spacing:0.05px;-webkit-text-stroke:0.15px #2f3d5a;">Sparsh Khatri Lama</div>
<div class="t" style="left:66px;top:28.36px;font-size:9.5px;color:#848d9f;font-weight:400;letter-spacing:0.6px;">9800491600</div>
<div class="t" style="left:133.5px;top:28.69px;font-size:11px;color:#5b6477;font-weight:700;">| (01:28)</div>
<div class="t" style="left:66px;top:51.09px;font-size:11px;color:#f05656;font-weight:400;letter-spacing:-0.05px;-webkit-text-stroke:0.45px #f05656;">20 minutes ago</div>
<svg class="a" style="left:147.8px;top:45.5px" width="24" height="24" viewBox="0 0 24 24"><defs><clipPath id="cp6"><circle cx="12" cy="12" r="12"/></clipPath><linearGradient id="gcp6" x1="0" y1="0" x2="0" y2="1"><stop offset="0" stop-color="#5a5a60"/><stop offset="1" stop-color="#384050"/></linearGradient></defs><g clip-path="url(#cp6)"><rect width="24" height="24" fill="url(#gcp6)"/><path d="M3.5 25 C3.5 17 6.5 14 11.5 14 C16.5 14 19.5 17 19.5 25 Z" fill="#4a5a70"/><circle cx="11.5" cy="9" r="3.3" fill="#c89a70"/><path d="M8.1 8.5 C8.1 4.5 14.9 4.5 14.9 8.5 C13.5 6.5 9.5 6.5 8.1 8.5 Z" fill="#1a1a1a"/></g></svg>
<div class="a" style="left:404.80px;top:3.90px;width:28px;height:28px;border-radius:50%;background:#e4ecfa"></div><div class="a" style="left:408.80px;top:7.90px;width:20px;height:20px;border-radius:50%;background:#2068dc"></div><svg class="a" style="left:413.00px;top:12.10px" width="11.60" height="11.60" viewBox="0 -3 12 12"><path d="M1.2 -0.6 C0.6 0 0.6 1 1 2 C2 4.8 4.6 7.6 7.5 8.7 C8.5 9 9.3 9 9.8 8.5 L10.6 7.6 C10.9 7.2 10.9 6.8 10.5 6.5 L8.8 5.3 C8.4 5.1 8 5.1 7.7 5.4 L7 6.1 C5.6 5.4 4.3 4.1 3.6 2.7 L4.3 2 C4.6 1.7 4.6 1.3 4.4 0.9 L3.2 -0.8 C2.9 -1.2 2.4 -1.2 2.1 -0.9 Z" fill="#fff"/><path d="M10.4 -1.8 L7.6 1.0 M7.5 -0.4 V1.1 H9.0" stroke="#fff" stroke-opacity="0.85" stroke-width="1.0" fill="none" stroke-linecap="round"/></svg>
<div class="t" style="left:420px;width:98px;text-align:center;top:4.19px;font-size:11px;color:#5d6679;font-weight:400;letter-spacing:0.33px;">Incoming Call</div>
<div class="t" style="left:420px;width:99px;text-align:center;top:22.11px;font-size:10.5px;color:#5d6679;font-weight:400;letter-spacing:-0.1px;-webkit-text-stroke:0.35px #5d6679;">ANSWERED</div>
<div class="a" style="left:443.6px;top:49px;width:50px;height:16px;background:#fde8a6;border-radius:4px"></div>
<svg class="a" style="left:455.1px;top:49.8px" width="9" height="14" viewBox="5.5 1.2 14 22"><path d="M13.5 5.5c1.1 0 2-.9 2-2s-.9-2-2-2-2 .9-2 2 .9 2 2 2zM9.8 8.9L7 23h2.1l1.8-8 2.1 2v6h2v-7.5l-2.1-2 .6-3C14.8 12 16.8 13 19 13v-2c-1.9 0-3.5-1-4.3-2.4l-1-1.6c-.4-.6-1-1-1.7-1-.3 0-.5.1-.8.1L6 8.3V13h2V9.6l1.8-.7" fill="#111"/></svg>
<div class="t" style="left:467.1px;top:51.29px;font-size:11px;color:#333;font-weight:400;-webkit-text-stroke:0.2px #333;">Paid</div>
</div>
<div class="a" style="left:0;top:688px;width:510px;height:77px;background:#fff;border-bottom:1px solid #dfe3ea">
<div class="a" style="left:15px;top:20px;width:36px;height:36px;border-radius:50%;background:#1f66da"></div>
<div class="t" style="left:15px;top:30.26px;font-size:16px;color:#fff;font-weight:400;width:36px;text-align:center;-webkit-text-stroke:0.6px #fff;">P</div>
<div class="t" style="left:66px;top:6.80px;font-size:13px;color:#2f3d5a;font-weight:400;letter-spacing:0.05px;-webkit-text-stroke:0.15px #2f3d5a;">Jaishwant Pandit</div>
<div class="t" style="left:66px;top:28.36px;font-size:9.5px;color:#848d9f;font-weight:400;letter-spacing:0.6px;">9800812600</div>
<div class="t" style="left:133.5px;top:28.69px;font-size:11px;color:#5b6477;font-weight:700;">| (02:50)</div>
<div class="t" style="left:66px;top:51.09px;font-size:11px;color:#f05656;font-weight:400;letter-spacing:-0.05px;-webkit-text-stroke:0.45px #f05656;">22 minutes ago</div>
<div class="a" style="left:147.8px;top:45.5px;width:24px;height:24px;border-radius:50%;background:#dde1e8"></div>
<div class="t" style="left:147.8px;top:52.73px;font-size:10px;color:#5a6478;font-weight:400;width:24px;text-align:center;">JP</div>
<div class="a" style="left:407.00px;top:4.60px;width:28px;height:28px;border-radius:50%;background:#e9f6ea"></div><div class="a" style="left:411.00px;top:8.60px;width:20px;height:20px;border-radius:50%;background:#4cbb55"></div><svg class="a" style="left:415.20px;top:12.80px" width="11.60" height="11.60" viewBox="0 -3 12 12"><path d="M1.2 -0.6 C0.6 0 0.6 1 1 2 C2 4.8 4.6 7.6 7.5 8.7 C8.5 9 9.3 9 9.8 8.5 L10.6 7.6 C10.9 7.2 10.9 6.8 10.5 6.5 L8.8 5.3 C8.4 5.1 8 5.1 7.7 5.4 L7 6.1 C5.6 5.4 4.3 4.1 3.6 2.7 L4.3 2 C4.6 1.7 4.6 1.3 4.4 0.9 L3.2 -0.8 C2.9 -1.2 2.4 -1.2 2.1 -0.9 Z" fill="#fff"/><path d="M7.2 1.4 L10.2 -1.6 M8.9 -1.7 H10.3 V-0.3" stroke="#fff" stroke-opacity="0.85" stroke-width="1.0" fill="none" stroke-linecap="round"/></svg>
<div class="t" style="left:420px;width:100px;text-align:center;top:4.19px;font-size:11px;color:#5d6679;font-weight:400;letter-spacing:0.18px;">Outgoing Call</div>
<div class="t" style="left:420px;width:99px;text-align:center;top:22.11px;font-size:10.5px;color:#5d6679;font-weight:400;letter-spacing:-0.1px;-webkit-text-stroke:0.35px #5d6679;">ANSWERED</div>
<div class="a" style="left:443.6px;top:49px;width:50px;height:16px;background:#fde8a6;border-radius:4px"></div>
<svg class="a" style="left:455.1px;top:49.8px" width="9" height="14" viewBox="5.5 1.2 14 22"><path d="M13.5 5.5c1.1 0 2-.9 2-2s-.9-2-2-2-2 .9-2 2 .9 2 2 2zM9.8 8.9L7 23h2.1l1.8-8 2.1 2v6h2v-7.5l-2.1-2 .6-3C14.8 12 16.8 13 19 13v-2c-1.9 0-3.5-1-4.3-2.4l-1-1.6c-.4-.6-1-1-1.7-1-.3 0-.5.1-.8.1L6 8.3V13h2V9.6l1.8-.7" fill="#111"/></svg>
<div class="t" style="left:467.1px;top:51.29px;font-size:11px;color:#333;font-weight:400;-webkit-text-stroke:0.2px #333;">Paid</div>
</div>
<div class="a" style="left:0;top:765px;width:510px;height:76px;background:#fff;border-bottom:1px solid #dfe3ea">
<div class="a" style="left:15px;top:20px;width:36px;height:36px;border-radius:50%;background:#1f66da"></div>
<div class="t" style="left:15px;top:30.26px;font-size:16px;color:#fff;font-weight:400;width:36px;text-align:center;-webkit-text-stroke:0.6px #fff;">T</div>
<div class="t" style="left:66px;top:6.80px;font-size:13px;color:#2f3d5a;font-weight:400;letter-spacing:0.05px;-webkit-text-stroke:0.15px #2f3d5a;">Ram Bahadur Shrestha</div>
<div class="t" style="left:66px;top:28.36px;font-size:9.5px;color:#848d9f;font-weight:400;letter-spacing:0.6px;">9800006160</div>
<div class="t" style="left:133.5px;top:28.69px;font-size:11px;color:#5b6477;font-weight:700;">| (00:39)</div>
<div class="t" style="left:66px;top:51.09px;font-size:11px;color:#f05656;font-weight:400;letter-spacing:-0.05px;-webkit-text-stroke:0.45px #f05656;">22 minutes ago</div>
<svg class="a" style="left:147.8px;top:45.5px" width="24" height="24" viewBox="0 0 24 24"><defs><clipPath id="cp7"><circle cx="12" cy="12" r="12"/></clipPath><linearGradient id="gcp7" x1="0" y1="0" x2="0" y2="1"><stop offset="0" stop-color="#7a8a40"/><stop offset="1" stop-color="#5a6a30"/></linearGradient></defs><g clip-path="url(#cp7)"><rect width="24" height="24" fill="url(#gcp7)"/><path d="M4 25 C4 15.5 7 12.5 12 12.5 C17 12.5 20 15.5 20 25 Z" fill="#2a3448"/><circle cx="12" cy="7.5" r="3.3" fill="#c09070"/><path d="M8.6 7.0 C8.6 3.0 15.4 3.0 15.4 7.0 C14 5.0 10 5.0 8.6 7.0 Z" fill="#1a1a1a"/></g></svg>
<div class="a" style="left:404.80px;top:3.90px;width:28px;height:28px;border-radius:50%;background:#e4ecfa"></div><div class="a" style="left:408.80px;top:7.90px;width:20px;height:20px;border-radius:50%;background:#2068dc"></div><svg class="a" style="left:413.00px;top:12.10px" width="11.60" height="11.60" viewBox="0 -3 12 12"><path d="M1.2 -0.6 C0.6 0 0.6 1 1 2 C2 4.8 4.6 7.6 7.5 8.7 C8.5 9 9.3 9 9.8 8.5 L10.6 7.6 C10.9 7.2 10.9 6.8 10.5 6.5 L8.8 5.3 C8.4 5.1 8 5.1 7.7 5.4 L7 6.1 C5.6 5.4 4.3 4.1 3.6 2.7 L4.3 2 C4.6 1.7 4.6 1.3 4.4 0.9 L3.2 -0.8 C2.9 -1.2 2.4 -1.2 2.1 -0.9 Z" fill="#fff"/><path d="M10.4 -1.8 L7.6 1.0 M7.5 -0.4 V1.1 H9.0" stroke="#fff" stroke-opacity="0.85" stroke-width="1.0" fill="none" stroke-linecap="round"/></svg>
<div class="t" style="left:420px;width:98px;text-align:center;top:4.19px;font-size:11px;color:#5d6679;font-weight:400;letter-spacing:0.33px;">Incoming Call</div>
<div class="t" style="left:420px;width:99px;text-align:center;top:22.11px;font-size:10.5px;color:#5d6679;font-weight:400;letter-spacing:-0.1px;-webkit-text-stroke:0.35px #5d6679;">ANSWERED</div>
<div class="a" style="left:443.6px;top:49px;width:50px;height:16px;background:#fde8a6;border-radius:4px"></div>
<svg class="a" style="left:455.1px;top:49.8px" width="9" height="14" viewBox="5.5 1.2 14 22"><path d="M13.5 5.5c1.1 0 2-.9 2-2s-.9-2-2-2-2 .9-2 2 .9 2 2 2zM9.8 8.9L7 23h2.1l1.8-8 2.1 2v6h2v-7.5l-2.1-2 .6-3C14.8 12 16.8 13 19 13v-2c-1.9 0-3.5-1-4.3-2.4l-1-1.6c-.4-.6-1-1-1.7-1-.3 0-.5.1-.8.1L6 8.3V13h2V9.6l1.8-.7" fill="#111"/></svg>
<div class="t" style="left:467.1px;top:51.29px;font-size:11px;color:#333;font-weight:400;-webkit-text-stroke:0.2px #333;">Paid</div>
</div>
<div class="a" style="left:0;top:841px;width:510px;height:77px;background:#fff;border-bottom:1px solid #dfe3ea">
<div class="a" style="left:15px;top:20px;width:36px;height:36px;border-radius:50%;background:#1f66da"></div>
<div class="t" style="left:15px;top:30.26px;font-size:16px;color:#fff;font-weight:400;width:36px;text-align:center;-webkit-text-stroke:0.6px #fff;">V</div>
<div class="t" style="left:66px;top:6.80px;font-size:13px;color:#2f3d5a;font-weight:400;letter-spacing:0.05px;-webkit-text-stroke:0.15px #2f3d5a;">Prejisha Nakarmi Shahi</div>
<div class="t" style="left:66px;top:28.36px;font-size:9.5px;color:#848d9f;font-weight:400;letter-spacing:0.6px;">9800098112</div>
<div class="t" style="left:133.5px;top:28.69px;font-size:11px;color:#5b6477;font-weight:700;">| (02:27)</div>
<div class="t" style="left:66px;top:51.09px;font-size:11px;color:#f05656;font-weight:400;letter-spacing:-0.05px;-webkit-text-stroke:0.45px #f05656;">25 minutes ago</div>
<svg class="a" style="left:147.8px;top:45.5px" width="24" height="24" viewBox="0 0 24 24"><defs><clipPath id="cp8"><circle cx="12" cy="12" r="12"/></clipPath><linearGradient id="gcp8" x1="0" y1="0" x2="0" y2="1"><stop offset="0" stop-color="#4a5a38"/><stop offset="1" stop-color="#8a9a60"/></linearGradient></defs><g clip-path="url(#cp8)"><rect width="24" height="24" fill="url(#gcp8)"/><path d="M4 25 C4 16 7 13 12 13 C17 13 20 16 20 25 Z" fill="#d8583a"/><circle cx="12" cy="8" r="3.3" fill="#c09070"/><path d="M8.6 7.5 C8.6 3.5 15.4 3.5 15.4 7.5 C14 5.5 10 5.5 8.6 7.5 Z" fill="#1a1010"/></g></svg>
<div class="a" style="left:407.00px;top:4.60px;width:28px;height:28px;border-radius:50%;background:#e9f6ea"></div><div class="a" style="left:411.00px;top:8.60px;width:20px;height:20px;border-radius:50%;background:#4cbb55"></div><svg class="a" style="left:415.20px;top:12.80px" width="11.60" height="11.60" viewBox="0 -3 12 12"><path d="M1.2 -0.6 C0.6 0 0.6 1 1 2 C2 4.8 4.6 7.6 7.5 8.7 C8.5 9 9.3 9 9.8 8.5 L10.6 7.6 C10.9 7.2 10.9 6.8 10.5 6.5 L8.8 5.3 C8.4 5.1 8 5.1 7.7 5.4 L7 6.1 C5.6 5.4 4.3 4.1 3.6 2.7 L4.3 2 C4.6 1.7 4.6 1.3 4.4 0.9 L3.2 -0.8 C2.9 -1.2 2.4 -1.2 2.1 -0.9 Z" fill="#fff"/><path d="M7.2 1.4 L10.2 -1.6 M8.9 -1.7 H10.3 V-0.3" stroke="#fff" stroke-opacity="0.85" stroke-width="1.0" fill="none" stroke-linecap="round"/></svg>
<div class="t" style="left:420px;width:100px;text-align:center;top:4.19px;font-size:11px;color:#5d6679;font-weight:400;letter-spacing:0.18px;">Outgoing Call</div>
<div class="t" style="left:420px;width:99px;text-align:center;top:22.11px;font-size:10.5px;color:#5d6679;font-weight:400;letter-spacing:-0.1px;-webkit-text-stroke:0.35px #5d6679;">ANSWERED</div>
<div class="a" style="left:443.6px;top:49px;width:50px;height:16px;background:#fde8a6;border-radius:4px"></div>
<svg class="a" style="left:455.1px;top:49.8px" width="9" height="14" viewBox="5.5 1.2 14 22"><path d="M13.5 5.5c1.1 0 2-.9 2-2s-.9-2-2-2-2 .9-2 2 .9 2 2 2zM9.8 8.9L7 23h2.1l1.8-8 2.1 2v6h2v-7.5l-2.1-2 .6-3C14.8 12 16.8 13 19 13v-2c-1.9 0-3.5-1-4.3-2.4l-1-1.6c-.4-.6-1-1-1.7-1-.3 0-.5.1-.8.1L6 8.3V13h2V9.6l1.8-.7" fill="#111"/></svg>
<div class="t" style="left:467.1px;top:51.29px;font-size:11px;color:#333;font-weight:400;-webkit-text-stroke:0.2px #333;">Paid</div>
</div>
<div class="a" style="left:0;top:918px;width:510px;height:77px;background:#fff;border-bottom:1px solid #dfe3ea">
<div class="a" style="left:404.00px;top:3.00px;width:28px;height:28px;border-radius:50%;background:#e4ecfa"></div><div class="a" style="left:408.00px;top:7.00px;width:20px;height:20px;border-radius:50%;background:#2068dc"></div><svg class="a" style="left:412.20px;top:11.20px" width="11.60" height="11.60" viewBox="0 -3 12 12"><path d="M1.2 -0.6 C0.6 0 0.6 1 1 2 C2 4.8 4.6 7.6 7.5 8.7 C8.5 9 9.3 9 9.8 8.5 L10.6 7.6 C10.9 7.2 10.9 6.8 10.5 6.5 L8.8 5.3 C8.4 5.1 8 5.1 7.7 5.4 L7 6.1 C5.6 5.4 4.3 4.1 3.6 2.7 L4.3 2 C4.6 1.7 4.6 1.3 4.4 0.9 L3.2 -0.8 C2.9 -1.2 2.4 -1.2 2.1 -0.9 Z" fill="#fff"/><path d="M10.4 -1.8 L7.6 1.0 M7.5 -0.4 V1.1 H9.0" stroke="#fff" stroke-opacity="0.85" stroke-width="1.0" fill="none" stroke-linecap="round"/></svg>
<div class="t" style="left:433px;top:5.19px;font-size:11px;color:#5d6679;font-weight:400;">Incoming Call</div>
</div>
</div>
<div class="a" style="left:560px;top:148px;width:9px;height:927px;background:#e8e9ec;border-radius:4px 4px 0 0"></div>
<div class="a" style="left:560px;top:405px;width:8.5px;height:450px;background:#c1c1c1;border-radius:4px"></div>
<div class="a" style="left:50px;top:1075px;width:1870px;height:6px;background:#f6f6f6"></div>
<div class="t" style="left:593.5px;top:81.76px;font-size:18px;color:#2368d8;font-weight:400;letter-spacing:-0.15px;">Rojan Raj Sharma</div>
<svg class="a" style="left:592px;top:129px" width="20" height="20" viewBox="0 0 20 20" fill="none" stroke-linecap="round"><path d="M10.5 5.5 L12.8 3.2 C14 2 15.8 2 17 3.2 C18.2 4.4 18.2 6.2 17 7.4 L14.7 9.7 C13.5 10.9 11.7 10.9 10.5 9.7" stroke="#aaa" stroke-width="2.2"/><path d="M9.5 10.3 C8.3 9.1 6.5 9.1 5.3 10.3 L3 12.6 C1.8 13.8 1.8 15.6 3 16.8 C4.2 18 6 18 7.2 16.8 L9.5 14.5" stroke="#111" stroke-width="2.4"/><path d="M7.5 12.5 L12.5 7.5" stroke="#555" stroke-width="2"/></svg>
<div class="t" style="left:613.7px;top:132.20px;font-size:13px;color:#3f4b63;font-weight:400;-webkit-text-stroke:0.25px #3f4b63;">Copy Link</div>
<div class="a" style="left:697px;top:130px;width:16px;height:16px;border:1.6px solid #2f6fde;border-radius:2px"></div>
<div class="t" style="left:697px;top:133.19px;font-size:11px;color:#2f6fde;font-weight:700;width:16px;text-align:center;">T</div>
<div class="a" style="left:592px;top:165px;width:107px;height:32px;background:#b80015;border-radius:16px;box-shadow:0 2px 4px rgba(0,0,0,0.3)"></div>
<svg class="a" style="left:607px;top:170px" width="20" height="20" viewBox="0 0 20 20" fill="none" stroke="#fff" stroke-width="1.6"><circle cx="10" cy="10" r="8.2"/><path d="M10 5.5 V14.5 M5.5 10 H14.5" stroke-width="1.8"/></svg>
<div class="t" style="left:639px;top:174.00px;font-size:13px;color:#fff;font-weight:400;letter-spacing:-0.2px;-webkit-text-stroke:0.25px #fff;">Log Call</div>
<div class="t" style="left:916.8px;top:78.69px;font-size:11px;color:#8a8a8a;font-weight:400;letter-spacing:0.3px;">Mobile</div>
<div class="t" style="left:920.4px;top:99.50px;font-size:13px;color:#2f3d5a;font-weight:400;letter-spacing:0.25px;-webkit-text-stroke:0.3px #2f3d5a;">9800456700</div>
<div class="t" style="left:916.8px;top:130.19px;font-size:11px;color:#8a8a8a;font-weight:400;letter-spacing:0.3px;">Agent</div>
<div class="t" style="left:916.8px;top:150.20px;font-size:13px;color:#2f3d5a;font-weight:400;-webkit-text-stroke:0.3px #2f3d5a;">Ankit Oli</div>
<div class="t" style="left:1160px;top:78.69px;font-size:11px;color:#8a8a8a;font-weight:400;letter-spacing:0.3px;">Type</div>
<div class="t" style="left:1160px;top:99.50px;font-size:13px;color:#2f3d5a;font-weight:400;letter-spacing:0.1px;-webkit-text-stroke:0.45px #2f3d5a;">Outgoing</div>
<div class="t" style="left:1174.5px;top:136.00px;font-size:13px;color:#8a8a8a;font-weight:400;letter-spacing:0.2px;">Form</div>
<div class="t" style="left:1175px;top:158.69px;font-size:11px;color:#2f3d5a;font-weight:400;">-</div>
<div class="t" style="left:1403.6px;top:79.29px;font-size:11px;color:#8a8a8a;font-weight:400;letter-spacing:0.3px;">Status</div>
<div class="t" style="left:1403.6px;top:99.60px;font-size:13px;color:#2f3d5a;font-weight:400;letter-spacing:-0.25px;-webkit-text-stroke:0.45px #2f3d5a;">ANSWERED</div>
<div class="t" style="left:1403.6px;top:129.00px;font-size:13px;color:#8a8a8a;font-weight:400;letter-spacing:0.2px;">Packages</div>
<div class="t" style="left:1404px;top:152.69px;font-size:11px;color:#2f3d5a;font-weight:400;">-</div>
<div class="t" style="left:1647px;top:79.29px;font-size:11px;color:#8a8a8a;font-weight:400;letter-spacing:0.3px;">Duration</div>
<div class="t" style="left:1647px;top:99.60px;font-size:13px;color:#2f3d5a;font-weight:400;letter-spacing:-0.05px;-webkit-text-stroke:0.45px #2f3d5a;">02:52( Wed, Jul 31, 2024 5:44 PM )</div>
<div class="t" style="left:1647px;top:129.00px;font-size:13px;color:#8a8a8a;font-weight:400;letter-spacing:0.2px;">Recording</div>
<div class="a" style="left:1646.5px;top:150.6px;width:58px;height:15.2px;background:#226be0;border-radius:3px"></div>
<svg class="a" style="left:1651.5px;top:152px" width="12" height="12" viewBox="0 0 12 12" fill="none" stroke="#fff" stroke-width="1.1" stroke-opacity="0.9"><circle cx="6" cy="5.9" r="4.1"/><path d="M5.1 4.2 L7.3 5.9 L5.1 7.6 Z" fill="#fff" stroke="none"/></svg>
<div class="t" style="left:1670px;top:152.69px;font-size:11px;color:#fff;font-weight:400;">Listen</div>
<div class="a" style="left:592px;top:211px;width:1298px;height:3px;background:#dddddd"></div>
<div class="a" style="left:592px;top:229px;width:314px;height:647px;background:#f2f2f2"></div>
<div class="t" style="left:606.6px;top:248.96px;font-size:16px;color:#2f3d5a;font-weight:700;letter-spacing:-0.25px;">Call history</div>
<div class="a" style="left:606px;top:282px;width:285px;height:580px;overflow:hidden">
<div class="a" style="left:0;top:7.20px;width:276px;height:54.8px;background:#d8dbef"></div>
<div class="a" style="left:4.00px;top:10.60px;width:28px;height:28px;border-radius:50%;background:#e9f6ea"></div><div class="a" style="left:8.00px;top:14.60px;width:20px;height:20px;border-radius:50%;background:#4cbb55"></div><svg class="a" style="left:12.20px;top:18.80px" width="11.60" height="11.60" viewBox="0 -3 12 12"><path d="M1.2 -0.6 C0.6 0 0.6 1 1 2 C2 4.8 4.6 7.6 7.5 8.7 C8.5 9 9.3 9 9.8 8.5 L10.6 7.6 C10.9 7.2 10.9 6.8 10.5 6.5 L8.8 5.3 C8.4 5.1 8 5.1 7.7 5.4 L7 6.1 C5.6 5.4 4.3 4.1 3.6 2.7 L4.3 2 C4.6 1.7 4.6 1.3 4.4 0.9 L3.2 -0.8 C2.9 -1.2 2.4 -1.2 2.1 -0.9 Z" fill="#fff"/><path d="M7.2 1.4 L10.2 -1.6 M8.9 -1.7 H10.3 V-0.3" stroke="#fff" stroke-opacity="0.85" stroke-width="1.0" fill="none" stroke-linecap="round"/></svg>
<div class="t" style="left:33.4px;top:18.40px;font-size:13px;color:#4a5670;font-weight:400;letter-spacing:-0.2px;">Outgoing Call( 02:52 )</div>
<div class="t" style="left:4.3px;top:43.89px;font-size:11px;color:#5a6478;font-weight:400;letter-spacing:0.3px;">15 minutes ago by Ankit Oli</div>
<div class="a" style="left:4.00px;top:80.40px;width:28px;height:28px;border-radius:50%;background:#e9f6ea"></div><div class="a" style="left:8.00px;top:84.40px;width:20px;height:20px;border-radius:50%;background:#4cbb55"></div><svg class="a" style="left:12.20px;top:88.60px" width="11.60" height="11.60" viewBox="0 -3 12 12"><path d="M1.2 -0.6 C0.6 0 0.6 1 1 2 C2 4.8 4.6 7.6 7.5 8.7 C8.5 9 9.3 9 9.8 8.5 L10.6 7.6 C10.9 7.2 10.9 6.8 10.5 6.5 L8.8 5.3 C8.4 5.1 8 5.1 7.7 5.4 L7 6.1 C5.6 5.4 4.3 4.1 3.6 2.7 L4.3 2 C4.6 1.7 4.6 1.3 4.4 0.9 L3.2 -0.8 C2.9 -1.2 2.4 -1.2 2.1 -0.9 Z" fill="#fff"/><path d="M7.2 1.4 L10.2 -1.6 M8.9 -1.7 H10.3 V-0.3" stroke="#fff" stroke-opacity="0.85" stroke-width="1.0" fill="none" stroke-linecap="round"/></svg>
<div class="t" style="left:33.4px;top:88.20px;font-size:13px;color:#4a5670;font-weight:400;letter-spacing:-0.2px;">Outgoing Call( 01:41 )</div>
<div class="t" style="left:4px;top:112.42px;font-size:12.5px;color:#3d4a66;font-weight:700;text-decoration:underline;letter-spacing:-0.2px;">Review for Science</div>
<div class="t" style="left:4.3px;top:135.69px;font-size:11px;color:#5a6478;font-weight:400;letter-spacing:0.3px;">2 months ago by Arjun Bahadur Shahi</div>
<div class="a" style="left:4.00px;top:172.40px;width:28px;height:28px;border-radius:50%;background:#e9f6ea"></div><div class="a" style="left:8.00px;top:176.40px;width:20px;height:20px;border-radius:50%;background:#4cbb55"></div><svg class="a" style="left:12.20px;top:180.60px" width="11.60" height="11.60" viewBox="0 -3 12 12"><path d="M1.2 -0.6 C0.6 0 0.6 1 1 2 C2 4.8 4.6 7.6 7.5 8.7 C8.5 9 9.3 9 9.8 8.5 L10.6 7.6 C10.9 7.2 10.9 6.8 10.5 6.5 L8.8 5.3 C8.4 5.1 8 5.1 7.7 5.4 L7 6.1 C5.6 5.4 4.3 4.1 3.6 2.7 L4.3 2 C4.6 1.7 4.6 1.3 4.4 0.9 L3.2 -0.8 C2.9 -1.2 2.4 -1.2 2.1 -0.9 Z" fill="#fff"/><path d="M7.2 1.4 L10.2 -1.6 M8.9 -1.7 H10.3 V-0.3" stroke="#fff" stroke-opacity="0.85" stroke-width="1.0" fill="none" stroke-linecap="round"/></svg>
<div class="t" style="left:33.4px;top:180.20px;font-size:13px;color:#4a5670;font-weight:400;letter-spacing:-0.2px;">Outgoing Call( 00:28 )</div>
<div class="t" style="left:4px;top:204.42px;font-size:12.5px;color:#3d4a66;font-weight:700;text-decoration:underline;letter-spacing:-0.2px;">Science -Presales</div>
<div class="t" style="left:4.3px;top:227.69px;font-size:11px;color:#5a6478;font-weight:400;letter-spacing:0.3px;">2 months ago by Arjun Bahadur Shahi</div>
<div class="a" style="left:4.00px;top:264.40px;width:28px;height:28px;border-radius:50%;background:#e4ecfa"></div><div class="a" style="left:8.00px;top:268.40px;width:20px;height:20px;border-radius:50%;background:#2068dc"></div><svg class="a" style="left:12.20px;top:272.60px" width="11.60" height="11.60" viewBox="0 -3 12 12"><path d="M1.2 -0.6 C0.6 0 0.6 1 1 2 C2 4.8 4.6 7.6 7.5 8.7 C8.5 9 9.3 9 9.8 8.5 L10.6 7.6 C10.9 7.2 10.9 6.8 10.5 6.5 L8.8 5.3 C8.4 5.1 8 5.1 7.7 5.4 L7 6.1 C5.6 5.4 4.3 4.1 3.6 2.7 L4.3 2 C4.6 1.7 4.6 1.3 4.4 0.9 L3.2 -0.8 C2.9 -1.2 2.4 -1.2 2.1 -0.9 Z" fill="#fff"/><path d="M10.4 -1.8 L7.6 1.0 M7.5 -0.4 V1.1 H9.0" stroke="#fff" stroke-opacity="0.85" stroke-width="1.0" fill="none" stroke-linecap="round"/></svg>
<div class="t" style="left:33.4px;top:272.20px;font-size:13px;color:#4a5670;font-weight:400;letter-spacing:-0.2px;">Incoming Call( 01:49 )</div>
<div class="t" style="left:4px;top:296.42px;font-size:12.5px;color:#3d4a66;font-weight:700;text-decoration:underline;letter-spacing:-0.2px;">Payment garera ni activate bhayena.</div>
<div class="t" style="left:4.3px;top:319.69px;font-size:11px;color:#5a6478;font-weight:400;letter-spacing:0.3px;">2 months ago by Rupa Limbu</div>
<div class="a" style="left:4.00px;top:356.40px;width:28px;height:28px;border-radius:50%;background:#e4ecfa"></div><div class="a" style="left:8.00px;top:360.40px;width:20px;height:20px;border-radius:50%;background:#2068dc"></div><svg class="a" style="left:12.20px;top:364.60px" width="11.60" height="11.60" viewBox="0 -3 12 12"><path d="M1.2 -0.6 C0.6 0 0.6 1 1 2 C2 4.8 4.6 7.6 7.5 8.7 C8.5 9 9.3 9 9.8 8.5 L10.6 7.6 C10.9 7.2 10.9 6.8 10.5 6.5 L8.8 5.3 C8.4 5.1 8 5.1 7.7 5.4 L7 6.1 C5.6 5.4 4.3 4.1 3.6 2.7 L4.3 2 C4.6 1.7 4.6 1.3 4.4 0.9 L3.2 -0.8 C2.9 -1.2 2.4 -1.2 2.1 -0.9 Z" fill="#fff"/><path d="M10.4 -1.8 L7.6 1.0 M7.5 -0.4 V1.1 H9.0" stroke="#fff" stroke-opacity="0.85" stroke-width="1.0" fill="none" stroke-linecap="round"/></svg>
<div class="t" style="left:33.4px;top:364.20px;font-size:13px;color:#4a5670;font-weight:400;letter-spacing:-0.2px;">Incoming Call( 00:08 )</div>
<div class="t" style="left:4px;top:388.42px;font-size:12.5px;color:#3d4a66;font-weight:700;text-decoration:underline;letter-spacing:-0.2px;">Abandoned calls - no query.</div>
<div class="t" style="left:4.3px;top:411.69px;font-size:11px;color:#5a6478;font-weight:400;letter-spacing:0.3px;">2 months ago by Aakriti Kshetri</div>
<div class="a" style="left:4.00px;top:448.40px;width:28px;height:28px;border-radius:50%;background:#e9f6ea"></div><div class="a" style="left:8.00px;top:452.40px;width:20px;height:20px;border-radius:50%;background:#4cbb55"></div><svg class="a" style="left:12.20px;top:456.60px" width="11.60" height="11.60" viewBox="0 -3 12 12"><path d="M1.2 -0.6 C0.6 0 0.6 1 1 2 C2 4.8 4.6 7.6 7.5 8.7 C8.5 9 9.3 9 9.8 8.5 L10.6 7.6 C10.9 7.2 10.9 6.8 10.5 6.5 L8.8 5.3 C8.4 5.1 8 5.1 7.7 5.4 L7 6.1 C5.6 5.4 4.3 4.1 3.6 2.7 L4.3 2 C4.6 1.7 4.6 1.3 4.4 0.9 L3.2 -0.8 C2.9 -1.2 2.4 -1.2 2.1 -0.9 Z" fill="#fff"/><path d="M7.2 1.4 L10.2 -1.6 M8.9 -1.7 H10.3 V-0.3" stroke="#fff" stroke-opacity="0.85" stroke-width="1.0" fill="none" stroke-linecap="round"/></svg>
<div class="t" style="left:33.4px;top:456.20px;font-size:13px;color:#4a5670;font-weight:400;letter-spacing:-0.2px;">Outgoing Call( 00:49 )</div>
<div class="t" style="left:4.3px;top:481.69px;font-size:11px;color:#5a6478;font-weight:400;letter-spacing:0.3px;">5 months ago by Kushum basnet</div>
<div class="a" style="left:4.00px;top:518.20px;width:28px;height:28px;border-radius:50%;background:#e9f6ea"></div><div class="a" style="left:8.00px;top:522.20px;width:20px;height:20px;border-radius:50%;background:#4cbb55"></div><svg class="a" style="left:12.20px;top:526.40px" width="11.60" height="11.60" viewBox="0 -3 12 12"><path d="M1.2 -0.6 C0.6 0 0.6 1 1 2 C2 4.8 4.6 7.6 7.5 8.7 C8.5 9 9.3 9 9.8 8.5 L10.6 7.6 C10.9 7.2 10.9 6.8 10.5 6.5 L8.8 5.3 C8.4 5.1 8 5.1 7.7 5.4 L7 6.1 C5.6 5.4 4.3 4.1 3.6 2.7 L4.3 2 C4.6 1.7 4.6 1.3 4.4 0.9 L3.2 -0.8 C2.9 -1.2 2.4 -1.2 2.1 -0.9 Z" fill="#fff"/><path d="M7.2 1.4 L10.2 -1.6 M8.9 -1.7 H10.3 V-0.3" stroke="#fff" stroke-opacity="0.85" stroke-width="1.0" fill="none" stroke-linecap="round"/></svg>
<div class="t" style="left:33.4px;top:526.00px;font-size:13px;color:#4a5670;font-weight:400;letter-spacing:-0.2px;">Outgoing Call( 01:32 )</div>
<div class="t" style="left:4.3px;top:551.49px;font-size:11px;color:#5a6478;font-weight:400;letter-spacing:0.3px;">5 months ago by Kushum basnet</div>
</div>
<div class="a" style="left:882px;top:282px;width:9px;height:575px;background:#e7e7e7;border-radius:4.5px"></div>
<div class="a" style="left:607px;top:858px;width:275px;height:4px;background:#e4e4e4"></div>
<div class="a" style="left:882px;top:858px;width:9px;height:4px;background:#fff"></div>
<div class="a" style="left:920px;top:229px;width:533px;height:831px;background:#f2f2f2"></div>
<div class="t" style="left:935px;top:247.76px;font-size:16px;color:#2f3d5a;font-weight:700;letter-spacing:-0.2px;">Tickets ( 7 )</div>
<div class="a" style="left:934px;top:289px;width:495px;height:753px;overflow:hidden">
<div class="a" style="left:0;top:0.40px;width:495px;height:97.50px;background:#f9f9f9;border-radius:5px">
<div class="t" style="left:22.6px;top:15.55px;font-size:14px;line-height:17px;color:#1c1c1c;font-weight:700;letter-spacing:0.1px;white-space:normal;width:370px">#Sociair-3-199822 Science -Presales</div>
<div class="a" style="left:413.4px;top:17px;width:53px;height:14.5px;background:#1f72e0;border-radius:3px"></div>
<div class="t" style="left:413.4px;top:18.89px;font-size:11px;color:#fff;font-weight:400;width:53px;text-align:center;">Archived</div>
<div class="t" style="left:22.6px;top:43.42px;font-size:12.5px;color:#9a9a9a;font-weight:400;letter-spacing:-0.1px;">hung up</div>
<div class="t" style="left:22.6px;top:75.00px;font-size:13px;color:#4f5d78;font-weight:400;letter-spacing:-0.2px;">Sun, May 12, 2024 12:19 PM by Arjun Bahadur Shahi</div>
</div>
<div class="a" style="left:0;top:105.40px;width:495px;height:113.50px;background:#f9f9f9;border-radius:5px">
<div class="t" style="left:22.6px;top:15.55px;font-size:14px;line-height:17px;color:#1c1c1c;font-weight:700;letter-spacing:0.1px;white-space:normal;width:370px">#Sociair-114-199820 Review for Science</div>
<div class="a" style="left:413.4px;top:17px;width:53px;height:14.5px;background:#1f72e0;border-radius:3px"></div>
<div class="t" style="left:413.4px;top:18.89px;font-size:11px;color:#fff;font-weight:400;width:53px;text-align:center;">Archived</div>
<div class="t" style="left:22.6px;top:43.42px;font-size:12.5px;color:#9a9a9a;font-weight:400;letter-spacing:-0.1px;">arko number bata class lagirakoxa bhannu bhayo receive by his</div>
<div class="t" style="left:22.6px;top:59.42px;font-size:12.5px;color:#9a9a9a;font-weight:400;letter-spacing:-0.1px;">parents</div>
<div class="t" style="left:22.6px;top:91.00px;font-size:13px;color:#4f5d78;font-weight:400;letter-spacing:-0.2px;">Sun, May 12, 2024 12:18 PM by Arjun Bahadur Shahi</div>
</div>
<div class="a" style="left:0;top:226.40px;width:495px;height:97.50px;background:#f9f9f9;border-radius:5px">
<div class="t" style="left:22.6px;top:15.55px;font-size:14px;line-height:17px;color:#1c1c1c;font-weight:700;letter-spacing:0.1px;white-space:normal;width:370px">#Sociair-155-192507 Abandoned calls - no query.</div>
<div class="a" style="left:413.4px;top:17px;width:53px;height:14.5px;background:#1f72e0;border-radius:3px"></div>
<div class="t" style="left:413.4px;top:18.89px;font-size:11px;color:#fff;font-weight:400;width:53px;text-align:center;">Archived</div>
<div class="t" style="left:22.6px;top:43.42px;font-size:12.5px;color:#9a9a9a;font-weight:400;letter-spacing:-0.1px;">call hungup</div>
<div class="t" style="left:22.6px;top:75.00px;font-size:13px;color:#4f5d78;font-weight:400;letter-spacing:-0.2px;">Fri, May 3, 2024 8:22 AM by Aakriti Kshetri</div>
</div>
<div class="a" style="left:0;top:331.40px;width:495px;height:115.90px;background:#f9f9f9;border-radius:5px">
<div class="t" style="left:22.6px;top:15.55px;font-size:14px;line-height:17px;color:#1c1c1c;font-weight:700;letter-spacing:0.1px;white-space:normal;width:370px">#Sociair-225-192505 Payment garera ni activate<br>bhayena.</div>
<div class="a" style="left:413.4px;top:17px;width:53px;height:14.5px;background:#1f72e0;border-radius:3px"></div>
<div class="t" style="left:413.4px;top:18.89px;font-size:11px;color:#fff;font-weight:400;width:53px;text-align:center;">Archived</div>
<div class="t" style="left:22.6px;top:60.42px;font-size:12.5px;color:#9a9a9a;font-weight:400;letter-spacing:-0.1px;">activation garna lai phone pay ma send gareko chu viber</div>
<div class="t" style="left:22.6px;top:92.00px;font-size:13px;color:#4f5d78;font-weight:400;letter-spacing:-0.2px;">Fri, May 3, 2024 8:22 AM by Rupa Limbu</div>
</div>
<div class="a" style="left:0;top:454.80px;width:495px;height:97.50px;background:#f9f9f9;border-radius:5px">
<div class="t" style="left:22.6px;top:15.55px;font-size:14px;line-height:17px;color:#1c1c1c;font-weight:700;letter-spacing:0.1px;white-space:normal;width:370px">#Sociair-135-190763 Class ko Routine herna naahyeko</div>
<div class="a" style="left:413.4px;top:17px;width:53px;height:14.5px;background:#1f72e0;border-radius:3px"></div>
<div class="t" style="left:413.4px;top:18.89px;font-size:11px;color:#fff;font-weight:400;width:53px;text-align:center;">Archived</div>
<div class="t" style="left:22.6px;top:43.42px;font-size:12.5px;color:#9a9a9a;font-weight:400;letter-spacing:-0.1px;">Video Link, How to check routine video</div>
<div class="t" style="left:22.6px;top:75.00px;font-size:13px;color:#4f5d78;font-weight:400;letter-spacing:-0.2px;">Wed, May 1, 2024 9:55 AM by Umanga kc</div>
</div>
<div class="a" style="left:0;top:559.80px;width:495px;height:97.50px;background:#f9f9f9;border-radius:5px">
<div class="t" style="left:22.6px;top:15.55px;font-size:14px;line-height:17px;color:#1c1c1c;font-weight:700;letter-spacing:0.1px;white-space:normal;width:370px">#Sociair-174-135271 N/A</div>
<div class="a" style="left:413.4px;top:17px;width:53px;height:14.5px;background:#1f72e0;border-radius:3px"></div>
<div class="t" style="left:413.4px;top:18.89px;font-size:11px;color:#fff;font-weight:400;width:53px;text-align:center;">Archived</div>
<div class="t" style="left:22.6px;top:43.42px;font-size:12.5px;color:#9a9a9a;font-weight:400;letter-spacing:-0.1px;">hunchha class join garchhu bhannu bhayo</div>
<div class="t" style="left:22.6px;top:75.00px;font-size:13px;color:#4f5d78;font-weight:400;letter-spacing:-0.2px;">Thu, Feb 29, 2024 9:28 AM by Kushum basnet</div>
</div>
<div class="a" style="left:0;top:664.80px;width:495px;height:97.50px;background:#f9f9f9;border-radius:5px">
<div class="t" style="left:22.6px;top:15.55px;font-size:14px;line-height:17px;color:#1c1c1c;font-weight:700;letter-spacing:0.1px;white-space:normal;width:370px">#Sociair-174-135270 N/A</div>
<div class="a" style="left:413.4px;top:17px;width:53px;height:14.5px;background:#1f72e0;border-radius:3px"></div>
<div class="t" style="left:413.4px;top:18.89px;font-size:11px;color:#fff;font-weight:400;width:53px;text-align:center;">Archived</div>
<div class="t" style="left:22.6px;top:43.42px;font-size:12.5px;color:#9a9a9a;font-weight:400;letter-spacing:-0.1px;">hunchha class join garchhu bhannu bhayo</div>
<div class="t" style="left:22.6px;top:75.00px;font-size:13px;color:#4f5d78;font-weight:400;letter-spacing:-0.2px;">Thu, Feb 29, 2024 9:26 AM by Kushum basnet</div>
</div>
</div>
<div class="a" style="left:1429px;top:289px;width:9px;height:752px;background:#e8e8e8;border-radius:4.5px"></div>
<div class="a" style="left:1429px;top:289px;width:9px;height:736px;background:#c1c1c1;border-radius:4.5px"></div>
<div class="a" style="left:935px;top:1042px;width:494px;height:4px;background:#e4e4e4"></div>
<div class="a" style="left:1429px;top:1042px;width:9px;height:4px;background:#fff"></div>
<div class="a" style="left:1468px;top:229px;width:422px;height:521px;background:#f2f2f2"></div>
<div class="t" style="left:1482px;top:248.76px;font-size:16px;color:#2f3d5a;font-weight:700;letter-spacing:-0.2px;">Prospects</div>
<div class="a" style="left:1867px;top:267px;width:9px;height:463px;background:#e7e7e7;border-radius:4.5px"></div>
<div class="a" style="left:1482px;top:731px;width:385px;height:4px;background:#e4e4e4"></div>
<div class="a" style="left:1867px;top:731px;width:9px;height:4px;background:#fff"></div>
<div class="t" style="left:1485.3px;top:277.34px;font-size:12px;color:#3d4a66;font-weight:400;text-decoration:underline;letter-spacing:0px;-webkit-text-stroke:0.2px #3d4a66;">SEE (नेपाली माध्यम)-Rojan Raj Sharma</div>
<div class="t" style="left:1485.3px;top:297.69px;font-size:11px;color:#80848c;font-weight:400;letter-spacing:0.4px;-webkit-text-stroke:0.2px #80848c;">Fri, May 3, 2024 5:56 AM by</div>
<div class="a" style="left:1485.3px;top:325px;width:102.5px;height:14.3px;background:#1f66da;border-radius:7.5px"></div>
<div class="t" style="left:1485.3px;top:326.99px;font-size:11px;color:#fff;font-weight:400;width:102.5px;text-align:center;">Payment Received</div>
<svg class="a" style="left:1596.4px;top:324.00px" width="16" height="16" viewBox="0 0 24 24"><path d="M12 1.5 L15 9 L23 9.3 L16.8 14.3 L19 22.2 L12 17.6 L5 22.2 L7.2 14.3 L1 9.3 L9 9 Z" fill="#2e8b3a"/></svg>
<div class="a" style="left:1622px;top:319.3px;width:75px;height:24px;border:1.5px solid #4a8fe0;border-radius:3px"></div>
<div class="t" style="left:1622px;top:326.96px;font-size:9.5px;color:#2f6fde;font-weight:400;width:75px;text-align:center;-webkit-text-stroke:0.35px #2f6fde;">Update call</div>
<svg class="a" style="left:1486px;top:367px" width="20" height="18" viewBox="0 0 20 18" fill="none" stroke="#2f3d5a" stroke-width="1.8" stroke-linecap="round"><path d="M3.8 9 A6.8 6.8 0 1 1 6 14"/><path d="M1.2 7.2 L3.8 9.8 L6.4 7.2" stroke-linejoin="round"/><path d="M10.6 5.5 V9.3 L13.2 11"/></svg>
<div class="t" style="left:1514.6px;top:369.66px;font-size:16px;color:#2f3d5a;font-weight:700;letter-spacing:-0.1px;">Activity</div>
<svg class="a" style="left:1499.5px;top:411px" width="34.5" height="34.5" viewBox="0 0 34 34"><defs><clipPath id="actc"><circle cx="17" cy="17" r="17"/></clipPath></defs><g clip-path="url(#actc)"><rect width="34" height="34" fill="#b8c8a0"/><rect y="0" width="34" height="12" fill="#d8dcc8"/><path d="M18 2 C24 6 28 10 30 16 L22 14 Z" fill="#5a8a30"/><path d="M14 4 C10 8 6 12 4 18 L12 14 Z" fill="#6a9a40"/><rect y="18" width="34" height="16" fill="#3a5a28"/><path d="M4 30 C4 16 30 16 30 30" fill="none" stroke="#d03a50" stroke-width="2.5"/><circle cx="12" cy="22" r="3" fill="#4a7a30"/><circle cx="23" cy="21" r="3.5" fill="#2a4a20"/><rect x="15" y="20" width="4" height="6" fill="#f0f0f0"/><rect x="15" y="26" width="4" height="6" fill="#d82030"/><circle cx="17" cy="18.5" r="1.8" fill="#c09070"/></g></svg>
<div class="t" style="left:1562.7px;top:412.22px;font-size:12.5px;color:#5a6478;font-weight:400;letter-spacing:-0.1px;">sachina neupane moved this card to Payment</div>
<div class="t" style="left:1562.7px;top:427.12px;font-size:12.5px;color:#5a6478;font-weight:400;letter-spacing:-0.1px;">Received.</div>
<div class="t" style="left:1562.7px;top:445.39px;font-size:11px;color:#999;font-weight:400;letter-spacing:0.4px;">2 months ago .</div>
<div class="a" style="left:1642px;top:444.7px;width:90.7px;height:14.4px;background:#999;border-radius:3px"></div>
<div class="t" style="left:1642px;top:447.46px;font-size:9.5px;color:#fff;font-weight:400;width:90.7px;text-align:center;letter-spacing:0.3px;">Payment Received</div>
<div class="a" style="left:1482px;top:487px;width:385px;height:2px;background:#e0e0e0"></div>
<div class="t" style="left:1485.3px;top:499.34px;font-size:12px;color:#3d4a66;font-weight:400;text-decoration:underline;letter-spacing:0px;-webkit-text-stroke:0.2px #3d4a66;">SEE (नेपाली माध्यम)-Rojan Raj Sharma</div>
<div class="t" style="left:1485.3px;top:519.69px;font-size:11px;color:#80848c;font-weight:400;letter-spacing:0.4px;-webkit-text-stroke:0.2px #80848c;">Wed, May 1, 2024 9:55 AM by</div>
<div class="a" style="left:1485px;top:545.3px;width:34px;height:14.2px;background:#1f66da;border-radius:7.5px"></div>
<div class="t" style="left:1485px;top:547.19px;font-size:11px;color:#fff;font-weight:400;width:34px;text-align:center;">Paid</div>
<svg class="a" style="left:1527.5px;top:543.80px" width="16" height="16" viewBox="0 0 24 24"><path d="M12 1.5 L15 9 L23 9.3 L16.8 14.3 L19 22.2 L12 17.6 L5 22.2 L7.2 14.3 L1 9.3 L9 9 Z" fill="#2f3d5a"/></svg>
<div class="a" style="left:1482px;top:568px;width:385px;height:2px;background:#e0e0e0"></div>
<div class="t" style="left:1485.3px;top:581.24px;font-size:12px;color:#3d4a66;font-weight:400;text-decoration:underline;letter-spacing:0px;-webkit-text-stroke:0.2px #3d4a66;">Rojan Raj Sharma</div>
<div class="t" style="left:1485.3px;top:600.69px;font-size:11px;color:#80848c;font-weight:400;letter-spacing:0.4px;-webkit-text-stroke:0.2px #80848c;">Fri, Mar 1, 2024 12:39 PM by</div>
<div class="a" style="left:1485px;top:626.9px;width:34px;height:14.2px;background:#1f66da;border-radius:7.5px"></div>
<div class="t" style="left:1485px;top:628.79px;font-size:11px;color:#fff;font-weight:400;width:34px;text-align:center;">Paid</div>
<svg class="a" style="left:1527.5px;top:625.50px" width="16" height="16" viewBox="0 0 24 24"><path d="M12 1.5 L15 9 L23 9.3 L16.8 14.3 L19 22.2 L12 17.6 L5 22.2 L7.2 14.3 L1 9.3 L9 9 Z" fill="#2f3d5a"/></svg>
<div class="a" style="left:1482px;top:649.5px;width:385px;height:2px;background:#e0e0e0"></div>
<div class="t" style="left:1485.3px;top:661.54px;font-size:12px;color:#3d4a66;font-weight:400;text-decoration:underline;letter-spacing:0px;-webkit-text-stroke:0.2px #3d4a66;">Rojan Raj Sharma</div>
<div class="t" style="left:1485.3px;top:683.09px;font-size:11px;color:#80848c;font-weight:400;letter-spacing:0.4px;-webkit-text-stroke:0.2px #80848c;">Thu, Feb 29, 2024 9:23 AM by</div>
<div class="a" style="left:1485px;top:708px;width:34px;height:14.2px;background:#1f66da;border-radius:7.5px"></div>
<div class="t" style="left:1485px;top:709.89px;font-size:11px;color:#fff;font-weight:400;width:34px;text-align:center;">Paid</div>
<svg class="a" style="left:1527.5px;top:706.80px" width="16" height="16" viewBox="0 0 24 24"><path d="M12 1.5 L15 9 L23 9.3 L16.8 14.3 L19 22.2 L12 17.6 L5 22.2 L7.2 14.3 L1 9.3 L9 9 Z" fill="#2f3d5a"/></svg>
<div class="a" style="left:1912px;top:58px;width:8px;height:1010px;background:#c1c1c1;border-radius:4px"></div>
</div></body></html>
